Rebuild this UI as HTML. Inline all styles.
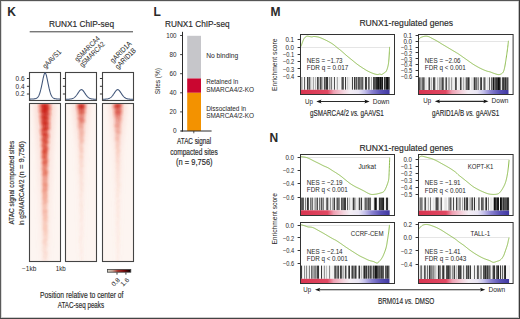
<!DOCTYPE html><html><head><meta charset="utf-8"><style>html,body{margin:0;padding:0;background:#fff;overflow:hidden}svg{display:block}text{font-family:"Liberation Sans",sans-serif;fill:#2a2a2a;stroke:#2a2a2a;stroke-width:0.03px}.b{stroke-width:0.16px}</style></head><body><svg width="520" height="319" viewBox="0 0 520 319"><defs><filter id="hb" x="-50%" y="-10%" width="200%" height="120%"><feGaussianBlur stdDeviation="0.6 0.9"/></filter><filter id="hb2" x="-50%" y="-10%" width="200%" height="120%"><feGaussianBlur stdDeviation="1.5 2.0"/></filter><clipPath id="hc0"><rect x="29.50" y="103.50" width="31.00" height="158.00"/></clipPath><clipPath id="hc1"><rect x="65.50" y="103.50" width="31.00" height="158.00"/></clipPath><clipPath id="hc2"><rect x="102.50" y="103.50" width="31.00" height="158.00"/></clipPath><linearGradient id="hgc0" x1="0" x2="1" y1="0" y2="0"><stop offset="0" stop-color="#e0301e" stop-opacity="0"/><stop offset="0.15" stop-color="#e0301e" stop-opacity="0.3"/><stop offset="0.35" stop-color="#c81a10" stop-opacity="0.85"/><stop offset="0.5" stop-color="#c81a10" stop-opacity="1"/><stop offset="0.65" stop-color="#c81a10" stop-opacity="0.85"/><stop offset="0.85" stop-color="#e0301e" stop-opacity="0.3"/><stop offset="1" stop-color="#e0301e" stop-opacity="0"/></linearGradient><linearGradient id="hgc1" x1="0" x2="1" y1="0" y2="0"><stop offset="0" stop-color="#e23c28" stop-opacity="0"/><stop offset="0.15" stop-color="#e23c28" stop-opacity="0.3"/><stop offset="0.35" stop-color="#cc2417" stop-opacity="0.85"/><stop offset="0.5" stop-color="#cc2417" stop-opacity="1"/><stop offset="0.65" stop-color="#cc2417" stop-opacity="0.85"/><stop offset="0.85" stop-color="#e23c28" stop-opacity="0.3"/><stop offset="1" stop-color="#e23c28" stop-opacity="0"/></linearGradient><linearGradient id="hgc2" x1="0" x2="1" y1="0" y2="0"><stop offset="0" stop-color="#e44732" stop-opacity="0"/><stop offset="0.15" stop-color="#e44732" stop-opacity="0.3"/><stop offset="0.35" stop-color="#d12f1e" stop-opacity="0.85"/><stop offset="0.5" stop-color="#d12f1e" stop-opacity="1"/><stop offset="0.65" stop-color="#d12f1e" stop-opacity="0.85"/><stop offset="0.85" stop-color="#e44732" stop-opacity="0.3"/><stop offset="1" stop-color="#e44732" stop-opacity="0"/></linearGradient><linearGradient id="hgc3" x1="0" x2="1" y1="0" y2="0"><stop offset="0" stop-color="#e7533c" stop-opacity="0"/><stop offset="0.15" stop-color="#e7533c" stop-opacity="0.3"/><stop offset="0.35" stop-color="#d53925" stop-opacity="0.85"/><stop offset="0.5" stop-color="#d53925" stop-opacity="1"/><stop offset="0.65" stop-color="#d53925" stop-opacity="0.85"/><stop offset="0.85" stop-color="#e7533c" stop-opacity="0.3"/><stop offset="1" stop-color="#e7533c" stop-opacity="0"/></linearGradient><linearGradient id="hgc4" x1="0" x2="1" y1="0" y2="0"><stop offset="0" stop-color="#e95e46" stop-opacity="0"/><stop offset="0.15" stop-color="#e95e46" stop-opacity="0.3"/><stop offset="0.35" stop-color="#da442c" stop-opacity="0.85"/><stop offset="0.5" stop-color="#da442c" stop-opacity="1"/><stop offset="0.65" stop-color="#da442c" stop-opacity="0.85"/><stop offset="0.85" stop-color="#e95e46" stop-opacity="0.3"/><stop offset="1" stop-color="#e95e46" stop-opacity="0"/></linearGradient><linearGradient id="hgc5" x1="0" x2="1" y1="0" y2="0"><stop offset="0" stop-color="#eb6a50" stop-opacity="0"/><stop offset="0.15" stop-color="#eb6a50" stop-opacity="0.3"/><stop offset="0.35" stop-color="#de4e34" stop-opacity="0.85"/><stop offset="0.5" stop-color="#de4e34" stop-opacity="1"/><stop offset="0.65" stop-color="#de4e34" stop-opacity="0.85"/><stop offset="0.85" stop-color="#eb6a50" stop-opacity="0.3"/><stop offset="1" stop-color="#eb6a50" stop-opacity="0"/></linearGradient><linearGradient id="hgc6" x1="0" x2="1" y1="0" y2="0"><stop offset="0" stop-color="#ed755a" stop-opacity="0"/><stop offset="0.15" stop-color="#ed755a" stop-opacity="0.3"/><stop offset="0.35" stop-color="#e3593b" stop-opacity="0.85"/><stop offset="0.5" stop-color="#e3593b" stop-opacity="1"/><stop offset="0.65" stop-color="#e3593b" stop-opacity="0.85"/><stop offset="0.85" stop-color="#ed755a" stop-opacity="0.3"/><stop offset="1" stop-color="#ed755a" stop-opacity="0"/></linearGradient><linearGradient id="hgc7" x1="0" x2="1" y1="0" y2="0"><stop offset="0" stop-color="#f08164" stop-opacity="0"/><stop offset="0.15" stop-color="#f08164" stop-opacity="0.3"/><stop offset="0.35" stop-color="#e76342" stop-opacity="0.85"/><stop offset="0.5" stop-color="#e76342" stop-opacity="1"/><stop offset="0.65" stop-color="#e76342" stop-opacity="0.85"/><stop offset="0.85" stop-color="#f08164" stop-opacity="0.3"/><stop offset="1" stop-color="#f08164" stop-opacity="0"/></linearGradient><linearGradient id="hgc8" x1="0" x2="1" y1="0" y2="0"><stop offset="0" stop-color="#f28c6e" stop-opacity="0"/><stop offset="0.15" stop-color="#f28c6e" stop-opacity="0.3"/><stop offset="0.35" stop-color="#ec6e49" stop-opacity="0.85"/><stop offset="0.5" stop-color="#ec6e49" stop-opacity="1"/><stop offset="0.65" stop-color="#ec6e49" stop-opacity="0.85"/><stop offset="0.85" stop-color="#f28c6e" stop-opacity="0.3"/><stop offset="1" stop-color="#f28c6e" stop-opacity="0"/></linearGradient><linearGradient id="hgc9" x1="0" x2="1" y1="0" y2="0"><stop offset="0" stop-color="#f49878" stop-opacity="0"/><stop offset="0.15" stop-color="#f49878" stop-opacity="0.3"/><stop offset="0.35" stop-color="#f07850" stop-opacity="0.85"/><stop offset="0.5" stop-color="#f07850" stop-opacity="1"/><stop offset="0.65" stop-color="#f07850" stop-opacity="0.85"/><stop offset="0.85" stop-color="#f49878" stop-opacity="0.3"/><stop offset="1" stop-color="#f49878" stop-opacity="0"/></linearGradient><linearGradient id="hgh" x1="0" x2="1" y1="0" y2="0"><stop offset="0" stop-color="#f4a090" stop-opacity="0"/><stop offset="0.5" stop-color="#f09080" stop-opacity="1"/><stop offset="1" stop-color="#f4a090" stop-opacity="0"/></linearGradient><linearGradient id="cb" x1="0" x2="1" y1="0" y2="0"><stop offset="0" stop-color="#d4d8cc"/><stop offset="0.22" stop-color="#c8a494"/><stop offset="0.45" stop-color="#a83028"/><stop offset="0.7" stop-color="#7a0808"/><stop offset="0.9" stop-color="#300000"/><stop offset="1" stop-color="#000"/></linearGradient><linearGradient id="st11" x1="0" x2="1" y1="0" y2="0"><stop offset="0" stop-color="#d83450"/><stop offset="0.3" stop-color="#e04862"/><stop offset="0.37" stop-color="#eea0b2"/><stop offset="0.48" stop-color="#f4d4de"/><stop offset="0.55" stop-color="#f4eef4"/><stop offset="0.65" stop-color="#eae6f4"/><stop offset="0.72" stop-color="#c4c0ea"/><stop offset="0.8" stop-color="#8a82d0"/><stop offset="0.9" stop-color="#5a52b6"/><stop offset="1" stop-color="#4038a2"/></linearGradient><linearGradient id="st12" x1="0" x2="1" y1="0" y2="0"><stop offset="0" stop-color="#d83450"/><stop offset="0.3" stop-color="#e04862"/><stop offset="0.37" stop-color="#eea0b2"/><stop offset="0.48" stop-color="#f4d4de"/><stop offset="0.55" stop-color="#f4eef4"/><stop offset="0.65" stop-color="#eae6f4"/><stop offset="0.72" stop-color="#c4c0ea"/><stop offset="0.8" stop-color="#8a82d0"/><stop offset="0.9" stop-color="#5a52b6"/><stop offset="1" stop-color="#4038a2"/></linearGradient><linearGradient id="st13" x1="0" x2="1" y1="0" y2="0"><stop offset="0" stop-color="#d83450"/><stop offset="0.3" stop-color="#e04862"/><stop offset="0.37" stop-color="#eea0b2"/><stop offset="0.48" stop-color="#f4d4de"/><stop offset="0.55" stop-color="#f4eef4"/><stop offset="0.65" stop-color="#eae6f4"/><stop offset="0.72" stop-color="#c4c0ea"/><stop offset="0.8" stop-color="#8a82d0"/><stop offset="0.9" stop-color="#5a52b6"/><stop offset="1" stop-color="#4038a2"/></linearGradient><linearGradient id="st14" x1="0" x2="1" y1="0" y2="0"><stop offset="0" stop-color="#d83450"/><stop offset="0.3" stop-color="#e04862"/><stop offset="0.37" stop-color="#eea0b2"/><stop offset="0.48" stop-color="#f4d4de"/><stop offset="0.55" stop-color="#f4eef4"/><stop offset="0.65" stop-color="#eae6f4"/><stop offset="0.72" stop-color="#c4c0ea"/><stop offset="0.8" stop-color="#8a82d0"/><stop offset="0.9" stop-color="#5a52b6"/><stop offset="1" stop-color="#4038a2"/></linearGradient><linearGradient id="st15" x1="0" x2="1" y1="0" y2="0"><stop offset="0" stop-color="#d83450"/><stop offset="0.3" stop-color="#e04862"/><stop offset="0.37" stop-color="#eea0b2"/><stop offset="0.48" stop-color="#f4d4de"/><stop offset="0.55" stop-color="#f4eef4"/><stop offset="0.65" stop-color="#eae6f4"/><stop offset="0.72" stop-color="#c4c0ea"/><stop offset="0.8" stop-color="#8a82d0"/><stop offset="0.9" stop-color="#5a52b6"/><stop offset="1" stop-color="#4038a2"/></linearGradient><linearGradient id="st16" x1="0" x2="1" y1="0" y2="0"><stop offset="0" stop-color="#d83450"/><stop offset="0.3" stop-color="#e04862"/><stop offset="0.37" stop-color="#eea0b2"/><stop offset="0.48" stop-color="#f4d4de"/><stop offset="0.55" stop-color="#f4eef4"/><stop offset="0.65" stop-color="#eae6f4"/><stop offset="0.72" stop-color="#c4c0ea"/><stop offset="0.8" stop-color="#8a82d0"/><stop offset="0.9" stop-color="#5a52b6"/><stop offset="1" stop-color="#4038a2"/></linearGradient></defs><rect width="520" height="319" fill="#fff"/><rect x="0.00" y="1.00" width="520.00" height="1.00" fill="#e4e4e4"/>
<rect x="1.00" y="0.00" width="1.00" height="319.00" fill="#dcdcdc"/>
<rect x="518.00" y="0.00" width="1.00" height="319.00" fill="#c0c0c0"/>
<rect x="0.00" y="317.00" width="520.00" height="1.00" fill="#cccccc"/>
<rect x="0.00" y="0.00" width="520.00" height="1.00" fill="#555555"/>
<rect x="0.00" y="0.00" width="1.00" height="319.00" fill="#5a5a5a"/>
<rect x="519.00" y="0.00" width="1.00" height="319.00" fill="#3a3a3a"/>
<rect x="0.00" y="318.00" width="520.00" height="1.00" fill="#444444"/>
<text x="7.20" y="16.20" font-size="12" font-weight="bold" fill="#111">K</text>
<text x="49.00" y="26.80" font-size="9" class="b" textLength="65.00" lengthAdjust="spacingAndGlyphs">RUNX1 ChIP-seq</text>
<line x1="29.70" y1="31.80" x2="133.00" y2="31.80" stroke="#2a2a2a" stroke-width="0.9"/>
<text x="45.40" y="68.90" font-size="7.4" textLength="23.00" lengthAdjust="spacingAndGlyphs" transform="rotate(-45 45.40 68.90)">gAAVS1</text>
<text x="77.50" y="62.00" font-size="7.4" textLength="32.50" lengthAdjust="spacingAndGlyphs" transform="rotate(-45 77.50 62.00)">gSMARCA4</text>
<text x="82.40" y="67.60" font-size="7.4" textLength="32.50" lengthAdjust="spacingAndGlyphs" transform="rotate(-45 82.40 67.60)">gSMARCA2</text>
<text x="113.10" y="63.20" font-size="7.4" textLength="27.00" lengthAdjust="spacingAndGlyphs" transform="rotate(-45 113.10 63.20)">gARID1A</text>
<text x="118.10" y="69.40" font-size="7.4" textLength="26.00" lengthAdjust="spacingAndGlyphs" transform="rotate(-45 118.10 69.40)">gARID1B</text>
<text x="24.60" y="80.70" font-size="6.6" text-anchor="end" textLength="9.00" lengthAdjust="spacingAndGlyphs">0.6</text>
<text x="24.60" y="88.50" font-size="6.6" text-anchor="end" textLength="9.00" lengthAdjust="spacingAndGlyphs">0.4</text>
<text x="24.60" y="96.30" font-size="6.6" text-anchor="end" textLength="9.00" lengthAdjust="spacingAndGlyphs">0.2</text>
<rect x="29.50" y="103.50" width="31.00" height="158.00" fill="#fdf5f1"/>
<g clip-path="url(#hc0)">
<g filter="url(#hb2)"><rect x="31.06" y="103.50" width="27.88" height="2.27" fill="url(#hgh)" opacity="0.544"/><rect x="31.19" y="105.47" width="27.62" height="2.27" fill="url(#hgh)" opacity="0.531"/><rect x="31.31" y="107.45" width="27.38" height="2.27" fill="url(#hgh)" opacity="0.519"/><rect x="31.44" y="109.42" width="27.12" height="2.27" fill="url(#hgh)" opacity="0.506"/><rect x="31.56" y="111.40" width="26.88" height="2.27" fill="url(#hgh)" opacity="0.494"/><rect x="31.69" y="113.38" width="26.62" height="2.27" fill="url(#hgh)" opacity="0.481"/><rect x="31.81" y="115.35" width="26.38" height="2.27" fill="url(#hgh)" opacity="0.469"/><rect x="31.94" y="117.33" width="26.12" height="2.27" fill="url(#hgh)" opacity="0.456"/><rect x="32.06" y="119.30" width="25.88" height="2.27" fill="url(#hgh)" opacity="0.444"/><rect x="32.19" y="121.28" width="25.62" height="2.27" fill="url(#hgh)" opacity="0.431"/><rect x="32.31" y="123.25" width="25.38" height="2.27" fill="url(#hgh)" opacity="0.419"/><rect x="32.44" y="125.22" width="25.12" height="2.27" fill="url(#hgh)" opacity="0.406"/><rect x="32.56" y="127.20" width="24.88" height="2.27" fill="url(#hgh)" opacity="0.395"/><rect x="32.69" y="129.18" width="24.62" height="2.27" fill="url(#hgh)" opacity="0.386"/><rect x="32.81" y="131.15" width="24.38" height="2.27" fill="url(#hgh)" opacity="0.377"/><rect x="32.94" y="133.12" width="24.12" height="2.27" fill="url(#hgh)" opacity="0.367"/><rect x="33.06" y="135.10" width="23.88" height="2.27" fill="url(#hgh)" opacity="0.358"/><rect x="33.19" y="137.07" width="23.62" height="2.27" fill="url(#hgh)" opacity="0.348"/><rect x="33.31" y="139.05" width="23.38" height="2.27" fill="url(#hgh)" opacity="0.339"/><rect x="33.44" y="141.03" width="23.12" height="2.27" fill="url(#hgh)" opacity="0.330"/><rect x="33.56" y="143.00" width="22.88" height="2.27" fill="url(#hgh)" opacity="0.320"/><rect x="33.69" y="144.97" width="22.62" height="2.27" fill="url(#hgh)" opacity="0.311"/><rect x="33.81" y="146.95" width="22.38" height="2.27" fill="url(#hgh)" opacity="0.302"/><rect x="33.94" y="148.93" width="22.12" height="2.27" fill="url(#hgh)" opacity="0.292"/><rect x="34.03" y="150.90" width="21.95" height="2.27" fill="url(#hgh)" opacity="0.283"/><rect x="34.08" y="152.88" width="21.84" height="2.27" fill="url(#hgh)" opacity="0.273"/><rect x="34.13" y="154.85" width="21.73" height="2.27" fill="url(#hgh)" opacity="0.264"/><rect x="34.19" y="156.82" width="21.62" height="2.27" fill="url(#hgh)" opacity="0.255"/><rect x="34.24" y="158.80" width="21.52" height="2.27" fill="url(#hgh)" opacity="0.247"/><rect x="34.29" y="160.78" width="21.41" height="2.27" fill="url(#hgh)" opacity="0.242"/><rect x="34.35" y="162.75" width="21.30" height="2.27" fill="url(#hgh)" opacity="0.236"/><rect x="34.40" y="164.72" width="21.20" height="2.27" fill="url(#hgh)" opacity="0.231"/><rect x="34.46" y="166.70" width="21.09" height="2.27" fill="url(#hgh)" opacity="0.225"/><rect x="34.51" y="168.68" width="20.98" height="2.27" fill="url(#hgh)" opacity="0.220"/><rect x="34.56" y="170.65" width="20.88" height="2.27" fill="url(#hgh)" opacity="0.214"/><rect x="34.62" y="172.62" width="20.77" height="2.27" fill="url(#hgh)" opacity="0.209"/><rect x="34.67" y="174.60" width="20.66" height="2.27" fill="url(#hgh)" opacity="0.203"/><rect x="34.72" y="176.57" width="20.55" height="2.27" fill="url(#hgh)" opacity="0.198"/><rect x="34.78" y="178.55" width="20.45" height="2.27" fill="url(#hgh)" opacity="0.192"/><rect x="34.83" y="180.53" width="20.34" height="2.27" fill="url(#hgh)" opacity="0.187"/><rect x="34.88" y="182.50" width="20.23" height="2.27" fill="url(#hgh)" opacity="0.181"/><rect x="34.94" y="184.47" width="20.12" height="2.27" fill="url(#hgh)" opacity="0.176"/><rect x="34.99" y="186.45" width="20.02" height="2.27" fill="url(#hgh)" opacity="0.170"/><rect x="35.04" y="188.43" width="19.91" height="2.27" fill="url(#hgh)" opacity="0.165"/><rect x="35.10" y="190.40" width="19.80" height="2.27" fill="url(#hgh)" opacity="0.159"/><rect x="35.15" y="192.38" width="19.70" height="2.27" fill="url(#hgh)" opacity="0.154"/><rect x="35.21" y="194.35" width="19.59" height="2.27" fill="url(#hgh)" opacity="0.148"/><rect x="35.26" y="196.32" width="19.48" height="2.27" fill="url(#hgh)" opacity="0.143"/><rect x="35.31" y="198.30" width="19.38" height="2.27" fill="url(#hgh)" opacity="0.139"/><rect x="35.37" y="200.28" width="19.27" height="2.27" fill="url(#hgh)" opacity="0.136"/><rect x="35.42" y="202.25" width="19.16" height="2.27" fill="url(#hgh)" opacity="0.134"/><rect x="35.47" y="204.22" width="19.05" height="2.27" fill="url(#hgh)" opacity="0.131"/><rect x="35.53" y="206.20" width="18.95" height="2.27" fill="url(#hgh)" opacity="0.129"/><rect x="35.58" y="208.18" width="18.84" height="2.27" fill="url(#hgh)" opacity="0.126"/><rect x="35.63" y="210.15" width="18.73" height="2.27" fill="url(#hgh)" opacity="0.124"/><rect x="35.69" y="212.12" width="18.62" height="2.27" fill="url(#hgh)" opacity="0.121"/><rect x="35.74" y="214.10" width="18.52" height="2.27" fill="url(#hgh)" opacity="0.119"/><rect x="35.79" y="216.07" width="18.41" height="2.27" fill="url(#hgh)" opacity="0.116"/><rect x="35.85" y="218.05" width="18.30" height="2.27" fill="url(#hgh)" opacity="0.114"/><rect x="35.90" y="220.03" width="18.20" height="2.27" fill="url(#hgh)" opacity="0.111"/><rect x="35.96" y="222.00" width="18.09" height="2.27" fill="url(#hgh)" opacity="0.109"/><rect x="36.01" y="223.97" width="17.98" height="2.27" fill="url(#hgh)" opacity="0.106"/><rect x="36.06" y="225.95" width="17.88" height="2.27" fill="url(#hgh)" opacity="0.104"/><rect x="36.12" y="227.93" width="17.77" height="2.27" fill="url(#hgh)" opacity="0.101"/><rect x="36.17" y="229.90" width="17.66" height="2.27" fill="url(#hgh)" opacity="0.099"/><rect x="36.22" y="231.88" width="17.55" height="2.27" fill="url(#hgh)" opacity="0.096"/><rect x="36.28" y="233.85" width="17.45" height="2.27" fill="url(#hgh)" opacity="0.094"/><rect x="36.33" y="235.82" width="17.34" height="2.27" fill="url(#hgh)" opacity="0.091"/><rect x="36.38" y="237.80" width="17.23" height="2.27" fill="url(#hgh)" opacity="0.089"/><rect x="36.44" y="239.78" width="17.12" height="2.27" fill="url(#hgh)" opacity="0.086"/><rect x="36.49" y="241.75" width="17.02" height="2.27" fill="url(#hgh)" opacity="0.084"/><rect x="36.54" y="243.72" width="16.91" height="2.27" fill="url(#hgh)" opacity="0.081"/><rect x="36.60" y="245.70" width="16.80" height="2.27" fill="url(#hgh)" opacity="0.079"/><rect x="36.65" y="247.68" width="16.70" height="2.27" fill="url(#hgh)" opacity="0.076"/><rect x="36.71" y="249.65" width="16.59" height="2.27" fill="url(#hgh)" opacity="0.074"/><rect x="36.76" y="251.62" width="16.48" height="2.27" fill="url(#hgh)" opacity="0.071"/><rect x="36.81" y="253.60" width="16.38" height="2.27" fill="url(#hgh)" opacity="0.069"/><rect x="36.87" y="255.57" width="16.27" height="2.27" fill="url(#hgh)" opacity="0.066"/><rect x="36.92" y="257.55" width="16.16" height="2.27" fill="url(#hgh)" opacity="0.064"/><rect x="36.97" y="259.52" width="16.05" height="2.27" fill="url(#hgh)" opacity="0.061"/></g>
<g filter="url(#hb)"><rect x="36.79" y="103.50" width="16.25" height="2.27" fill="url(#hgc0)" opacity="0.984"/><rect x="36.67" y="105.47" width="15.95" height="2.27" fill="url(#hgc0)" opacity="0.983"/><rect x="37.56" y="107.45" width="15.65" height="2.27" fill="url(#hgc0)" opacity="1.000"/><rect x="36.92" y="109.42" width="15.35" height="2.27" fill="url(#hgc0)" opacity="1.000"/><rect x="37.27" y="111.40" width="15.05" height="2.27" fill="url(#hgc0)" opacity="0.944"/><rect x="38.17" y="113.38" width="14.75" height="2.27" fill="url(#hgc0)" opacity="0.808"/><rect x="37.23" y="115.35" width="14.45" height="2.27" fill="url(#hgc1)" opacity="1.000"/><rect x="38.05" y="117.33" width="14.15" height="2.27" fill="url(#hgc1)" opacity="1.000"/><rect x="37.79" y="119.30" width="13.90" height="2.27" fill="url(#hgc1)" opacity="0.860"/><rect x="38.10" y="121.28" width="13.70" height="2.27" fill="url(#hgc1)" opacity="0.992"/><rect x="38.44" y="123.25" width="13.50" height="2.27" fill="url(#hgc1)" opacity="0.988"/><rect x="38.67" y="125.22" width="13.30" height="2.27" fill="url(#hgc1)" opacity="0.719"/><rect x="39.01" y="127.20" width="13.10" height="2.27" fill="url(#hgc1)" opacity="1.000"/><rect x="38.00" y="129.18" width="12.90" height="2.27" fill="url(#hgc2)" opacity="0.926"/><rect x="38.21" y="131.15" width="12.70" height="2.27" fill="url(#hgc2)" opacity="0.639"/><rect x="38.51" y="133.12" width="12.50" height="2.27" fill="url(#hgc2)" opacity="1.000"/><rect x="39.33" y="135.10" width="12.30" height="2.27" fill="url(#hgc2)" opacity="0.788"/><rect x="39.01" y="137.07" width="12.10" height="2.27" fill="url(#hgc2)" opacity="0.757"/><rect x="38.53" y="139.05" width="11.90" height="2.27" fill="url(#hgc2)" opacity="0.802"/><rect x="39.56" y="141.03" width="11.70" height="2.27" fill="url(#hgc3)" opacity="0.858"/><rect x="38.92" y="143.00" width="11.50" height="2.27" fill="url(#hgc3)" opacity="0.663"/><rect x="38.79" y="144.97" width="11.30" height="2.27" fill="url(#hgc3)" opacity="0.759"/><rect x="39.83" y="146.95" width="11.10" height="2.27" fill="url(#hgc3)" opacity="0.780"/><rect x="39.59" y="148.93" width="10.90" height="2.27" fill="url(#hgc3)" opacity="0.831"/><rect x="39.19" y="150.90" width="10.78" height="2.27" fill="url(#hgc3)" opacity="0.894"/><rect x="39.47" y="152.88" width="10.75" height="2.27" fill="url(#hgc4)" opacity="0.765"/><rect x="39.18" y="154.85" width="10.72" height="2.27" fill="url(#hgc4)" opacity="0.763"/><rect x="39.17" y="156.82" width="10.68" height="2.27" fill="url(#hgc4)" opacity="0.813"/><rect x="40.04" y="158.80" width="10.65" height="2.27" fill="url(#hgc4)" opacity="0.574"/><rect x="39.61" y="160.78" width="10.62" height="2.27" fill="url(#hgc4)" opacity="0.842"/><rect x="39.40" y="162.75" width="10.58" height="2.27" fill="url(#hgc4)" opacity="0.637"/><rect x="39.87" y="164.72" width="10.55" height="2.27" fill="url(#hgc4)" opacity="0.576"/><rect x="39.29" y="166.70" width="10.52" height="2.27" fill="url(#hgc5)" opacity="0.530"/><rect x="39.36" y="168.68" width="10.48" height="2.27" fill="url(#hgc5)" opacity="0.608"/><rect x="40.16" y="170.65" width="10.45" height="2.27" fill="url(#hgc5)" opacity="0.654"/><rect x="39.77" y="172.62" width="10.42" height="2.27" fill="url(#hgc5)" opacity="0.677"/><rect x="39.73" y="174.60" width="10.38" height="2.27" fill="url(#hgc5)" opacity="0.529"/><rect x="40.08" y="176.57" width="10.35" height="2.27" fill="url(#hgc5)" opacity="0.413"/><rect x="39.62" y="178.55" width="10.32" height="2.27" fill="url(#hgc6)" opacity="0.495"/><rect x="39.80" y="180.53" width="10.28" height="2.27" fill="url(#hgc6)" opacity="0.411"/><rect x="39.74" y="182.50" width="10.25" height="2.27" fill="url(#hgc6)" opacity="0.534"/><rect x="40.10" y="184.47" width="10.22" height="2.27" fill="url(#hgc6)" opacity="0.592"/><rect x="39.94" y="186.45" width="10.18" height="2.27" fill="url(#hgc6)" opacity="0.414"/><rect x="39.95" y="188.43" width="10.15" height="2.27" fill="url(#hgc6)" opacity="0.564"/><rect x="39.42" y="190.40" width="10.12" height="2.27" fill="url(#hgc7)" opacity="0.474"/><rect x="39.91" y="192.38" width="10.08" height="2.27" fill="url(#hgc7)" opacity="0.435"/><rect x="39.88" y="194.35" width="10.05" height="2.27" fill="url(#hgc7)" opacity="0.402"/><rect x="40.04" y="196.32" width="10.02" height="2.27" fill="url(#hgc7)" opacity="0.430"/><rect x="39.61" y="198.30" width="9.99" height="2.27" fill="url(#hgc7)" opacity="0.397"/><rect x="40.58" y="200.28" width="9.96" height="2.27" fill="url(#hgc7)" opacity="0.374"/><rect x="39.47" y="202.25" width="9.94" height="2.27" fill="url(#hgc7)" opacity="0.357"/><rect x="40.09" y="204.22" width="9.91" height="2.27" fill="url(#hgc8)" opacity="0.267"/><rect x="39.57" y="206.20" width="9.89" height="2.27" fill="url(#hgc8)" opacity="0.266"/><rect x="40.01" y="208.18" width="9.86" height="2.27" fill="url(#hgc8)" opacity="0.267"/><rect x="40.06" y="210.15" width="9.84" height="2.27" fill="url(#hgc8)" opacity="0.407"/><rect x="40.02" y="212.12" width="9.81" height="2.27" fill="url(#hgc8)" opacity="0.304"/><rect x="40.04" y="214.10" width="9.79" height="2.27" fill="url(#hgc8)" opacity="0.299"/><rect x="40.60" y="216.07" width="9.76" height="2.27" fill="url(#hgc9)" opacity="0.322"/><rect x="40.04" y="218.05" width="9.74" height="2.27" fill="url(#hgc9)" opacity="0.305"/><rect x="40.64" y="220.03" width="9.71" height="2.27" fill="url(#hgc9)" opacity="0.286"/><rect x="39.84" y="222.00" width="9.69" height="2.27" fill="url(#hgc9)" opacity="0.208"/><rect x="40.39" y="223.97" width="9.66" height="2.27" fill="url(#hgc9)" opacity="0.258"/><rect x="40.29" y="225.95" width="9.64" height="2.27" fill="url(#hgc9)" opacity="0.249"/><rect x="40.17" y="227.93" width="9.61" height="2.27" fill="url(#hgc9)" opacity="0.259"/><rect x="40.76" y="229.90" width="9.59" height="2.27" fill="url(#hgc9)" opacity="0.244"/><rect x="40.65" y="231.88" width="9.56" height="2.27" fill="url(#hgc9)" opacity="0.192"/><rect x="40.70" y="233.85" width="9.54" height="2.27" fill="url(#hgc9)" opacity="0.209"/><rect x="40.74" y="235.82" width="9.51" height="2.27" fill="url(#hgc9)" opacity="0.134"/><rect x="40.81" y="237.80" width="9.49" height="2.27" fill="url(#hgc9)" opacity="0.191"/><rect x="40.01" y="239.78" width="9.46" height="2.27" fill="url(#hgc9)" opacity="0.199"/><rect x="39.85" y="241.75" width="9.44" height="2.27" fill="url(#hgc9)" opacity="0.165"/><rect x="40.80" y="243.72" width="9.41" height="2.27" fill="url(#hgc9)" opacity="0.150"/><rect x="40.13" y="245.70" width="9.39" height="2.27" fill="url(#hgc9)" opacity="0.113"/><rect x="39.95" y="247.68" width="9.36" height="2.27" fill="url(#hgc9)" opacity="0.099"/><rect x="39.85" y="249.65" width="9.34" height="2.27" fill="url(#hgc9)" opacity="0.101"/><rect x="40.81" y="251.62" width="9.31" height="2.27" fill="url(#hgc9)" opacity="0.141"/><rect x="40.65" y="253.60" width="9.29" height="2.27" fill="url(#hgc9)" opacity="0.102"/><rect x="40.40" y="255.57" width="9.26" height="2.27" fill="url(#hgc9)" opacity="0.106"/><rect x="40.58" y="257.55" width="9.24" height="2.27" fill="url(#hgc9)" opacity="0.084"/><rect x="40.11" y="259.52" width="9.21" height="2.27" fill="url(#hgc9)" opacity="0.082"/></g>
</g>
<rect x="29.50" y="103.50" width="31.00" height="158.00" fill="none" stroke="#444" stroke-width="1.1"/>
<rect x="65.50" y="103.50" width="31.00" height="158.00" fill="#fdf5f1"/>
<g clip-path="url(#hc1)">
<g filter="url(#hb2)"><rect x="69.38" y="103.50" width="23.83" height="2.27" fill="url(#hgh)" opacity="0.441"/><rect x="69.55" y="105.47" width="23.50" height="2.27" fill="url(#hgh)" opacity="0.422"/><rect x="69.72" y="107.45" width="23.17" height="2.27" fill="url(#hgh)" opacity="0.403"/><rect x="69.88" y="109.42" width="22.83" height="2.27" fill="url(#hgh)" opacity="0.384"/><rect x="70.05" y="111.40" width="22.50" height="2.27" fill="url(#hgh)" opacity="0.366"/><rect x="70.22" y="113.38" width="22.17" height="2.27" fill="url(#hgh)" opacity="0.347"/><rect x="70.38" y="115.35" width="21.83" height="2.27" fill="url(#hgh)" opacity="0.328"/><rect x="70.55" y="117.33" width="21.50" height="2.27" fill="url(#hgh)" opacity="0.309"/><rect x="70.72" y="119.30" width="21.17" height="2.27" fill="url(#hgh)" opacity="0.294"/><rect x="70.88" y="121.28" width="20.83" height="2.27" fill="url(#hgh)" opacity="0.283"/><rect x="71.05" y="123.25" width="20.50" height="2.27" fill="url(#hgh)" opacity="0.272"/><rect x="71.22" y="125.22" width="20.17" height="2.27" fill="url(#hgh)" opacity="0.261"/><rect x="71.38" y="127.20" width="19.83" height="2.27" fill="url(#hgh)" opacity="0.249"/><rect x="71.55" y="129.18" width="19.50" height="2.27" fill="url(#hgh)" opacity="0.238"/><rect x="71.72" y="131.15" width="19.17" height="2.27" fill="url(#hgh)" opacity="0.227"/><rect x="71.88" y="133.12" width="18.83" height="2.27" fill="url(#hgh)" opacity="0.216"/><rect x="72.05" y="135.10" width="18.50" height="2.27" fill="url(#hgh)" opacity="0.204"/><rect x="72.22" y="137.07" width="18.17" height="2.27" fill="url(#hgh)" opacity="0.193"/><rect x="72.38" y="139.05" width="17.83" height="2.27" fill="url(#hgh)" opacity="0.182"/><rect x="72.55" y="141.03" width="17.50" height="2.27" fill="url(#hgh)" opacity="0.171"/><rect x="72.72" y="143.00" width="17.17" height="2.27" fill="url(#hgh)" opacity="0.159"/><rect x="72.88" y="144.97" width="16.83" height="2.27" fill="url(#hgh)" opacity="0.148"/><rect x="73.05" y="146.95" width="16.50" height="2.27" fill="url(#hgh)" opacity="0.137"/><rect x="73.22" y="148.93" width="16.17" height="2.27" fill="url(#hgh)" opacity="0.126"/><rect x="73.33" y="150.90" width="15.95" height="2.27" fill="url(#hgh)" opacity="0.119"/><rect x="73.38" y="152.88" width="15.84" height="2.27" fill="url(#hgh)" opacity="0.116"/><rect x="73.43" y="154.85" width="15.73" height="2.27" fill="url(#hgh)" opacity="0.113"/><rect x="73.49" y="156.82" width="15.62" height="2.27" fill="url(#hgh)" opacity="0.110"/><rect x="73.54" y="158.80" width="15.52" height="2.27" fill="url(#hgh)" opacity="0.107"/><rect x="73.59" y="160.78" width="15.41" height="2.27" fill="url(#hgh)" opacity="0.104"/><rect x="73.65" y="162.75" width="15.30" height="2.27" fill="url(#hgh)" opacity="0.101"/><rect x="73.70" y="164.72" width="15.20" height="2.27" fill="url(#hgh)" opacity="0.098"/><rect x="73.76" y="166.70" width="15.09" height="2.27" fill="url(#hgh)" opacity="0.095"/><rect x="73.81" y="168.68" width="14.98" height="2.27" fill="url(#hgh)" opacity="0.092"/><rect x="73.86" y="170.65" width="14.88" height="2.27" fill="url(#hgh)" opacity="0.089"/><rect x="73.92" y="172.62" width="14.77" height="2.27" fill="url(#hgh)" opacity="0.086"/><rect x="73.97" y="174.60" width="14.66" height="2.27" fill="url(#hgh)" opacity="0.084"/><rect x="74.02" y="176.57" width="14.55" height="2.27" fill="url(#hgh)" opacity="0.081"/><rect x="74.08" y="178.55" width="14.45" height="2.27" fill="url(#hgh)" opacity="0.078"/><rect x="74.13" y="180.53" width="14.34" height="2.27" fill="url(#hgh)" opacity="0.075"/><rect x="74.18" y="182.50" width="14.23" height="2.27" fill="url(#hgh)" opacity="0.072"/><rect x="74.24" y="184.47" width="14.12" height="2.27" fill="url(#hgh)" opacity="0.069"/><rect x="74.29" y="186.45" width="14.02" height="2.27" fill="url(#hgh)" opacity="0.066"/><rect x="74.34" y="188.43" width="13.91" height="2.27" fill="url(#hgh)" opacity="0.063"/><rect x="74.40" y="190.40" width="13.80" height="2.27" fill="url(#hgh)" opacity="0.060"/><rect x="74.45" y="192.38" width="13.70" height="2.27" fill="url(#hgh)" opacity="0.057"/><rect x="74.51" y="194.35" width="13.59" height="2.27" fill="url(#hgh)" opacity="0.054"/><rect x="74.56" y="196.32" width="13.48" height="2.27" fill="url(#hgh)" opacity="0.051"/><rect x="74.61" y="198.30" width="13.38" height="2.27" fill="url(#hgh)" opacity="0.050"/><rect x="74.67" y="200.28" width="13.27" height="2.27" fill="url(#hgh)" opacity="0.049"/><rect x="74.72" y="202.25" width="13.16" height="2.27" fill="url(#hgh)" opacity="0.048"/><rect x="74.77" y="204.22" width="13.05" height="2.27" fill="url(#hgh)" opacity="0.047"/><rect x="74.83" y="206.20" width="12.95" height="2.27" fill="url(#hgh)" opacity="0.046"/><rect x="74.88" y="208.18" width="12.84" height="2.27" fill="url(#hgh)" opacity="0.045"/><rect x="74.93" y="210.15" width="12.73" height="2.27" fill="url(#hgh)" opacity="0.044"/><rect x="74.99" y="212.12" width="12.62" height="2.27" fill="url(#hgh)" opacity="0.043"/><rect x="75.04" y="214.10" width="12.52" height="2.27" fill="url(#hgh)" opacity="0.042"/><rect x="75.09" y="216.07" width="12.41" height="2.27" fill="url(#hgh)" opacity="0.041"/><rect x="75.15" y="218.05" width="12.30" height="2.27" fill="url(#hgh)" opacity="0.040"/><rect x="75.20" y="220.03" width="12.20" height="2.27" fill="url(#hgh)" opacity="0.039"/><rect x="75.26" y="222.00" width="12.09" height="2.27" fill="url(#hgh)" opacity="0.038"/><rect x="75.31" y="223.97" width="11.98" height="2.27" fill="url(#hgh)" opacity="0.037"/><rect x="75.36" y="225.95" width="11.88" height="2.27" fill="url(#hgh)" opacity="0.036"/><rect x="75.42" y="227.93" width="11.77" height="2.27" fill="url(#hgh)" opacity="0.035"/><rect x="75.47" y="229.90" width="11.66" height="2.27" fill="url(#hgh)" opacity="0.035"/><rect x="75.52" y="231.88" width="11.55" height="2.27" fill="url(#hgh)" opacity="0.034"/><rect x="75.58" y="233.85" width="11.45" height="2.27" fill="url(#hgh)" opacity="0.033"/><rect x="75.63" y="235.82" width="11.34" height="2.27" fill="url(#hgh)" opacity="0.032"/><rect x="75.68" y="237.80" width="11.23" height="2.27" fill="url(#hgh)" opacity="0.031"/><rect x="75.74" y="239.78" width="11.12" height="2.27" fill="url(#hgh)" opacity="0.030"/><rect x="75.79" y="241.75" width="11.02" height="2.27" fill="url(#hgh)" opacity="0.029"/><rect x="75.84" y="243.72" width="10.91" height="2.27" fill="url(#hgh)" opacity="0.028"/><rect x="75.90" y="245.70" width="10.80" height="2.27" fill="url(#hgh)" opacity="0.027"/><rect x="75.95" y="247.68" width="10.70" height="2.27" fill="url(#hgh)" opacity="0.026"/><rect x="76.01" y="249.65" width="10.59" height="2.27" fill="url(#hgh)" opacity="0.025"/><rect x="76.06" y="251.62" width="10.48" height="2.27" fill="url(#hgh)" opacity="0.024"/><rect x="76.11" y="253.60" width="10.38" height="2.27" fill="url(#hgh)" opacity="0.023"/><rect x="76.17" y="255.57" width="10.27" height="2.27" fill="url(#hgh)" opacity="0.022"/><rect x="76.22" y="257.55" width="10.16" height="2.27" fill="url(#hgh)" opacity="0.021"/><rect x="76.27" y="259.52" width="10.05" height="2.27" fill="url(#hgh)" opacity="0.020"/></g>
<g filter="url(#hb)"><rect x="74.65" y="103.50" width="13.45" height="2.27" fill="url(#hgc0)" opacity="0.813"/><rect x="74.68" y="105.47" width="13.15" height="2.27" fill="url(#hgc0)" opacity="0.970"/><rect x="74.98" y="107.45" width="12.85" height="2.27" fill="url(#hgc0)" opacity="0.754"/><rect x="75.04" y="109.42" width="12.55" height="2.27" fill="url(#hgc1)" opacity="0.587"/><rect x="75.53" y="111.40" width="12.25" height="2.27" fill="url(#hgc1)" opacity="0.689"/><rect x="75.09" y="113.38" width="11.95" height="2.27" fill="url(#hgc2)" opacity="0.460"/><rect x="75.85" y="115.35" width="11.65" height="2.27" fill="url(#hgc2)" opacity="0.414"/><rect x="75.08" y="117.33" width="11.35" height="2.27" fill="url(#hgc2)" opacity="0.541"/><rect x="76.32" y="119.30" width="11.08" height="2.27" fill="url(#hgc3)" opacity="0.568"/><rect x="76.01" y="121.28" width="10.85" height="2.27" fill="url(#hgc3)" opacity="0.449"/><rect x="75.41" y="123.25" width="10.62" height="2.27" fill="url(#hgc4)" opacity="0.310"/><rect x="75.58" y="125.22" width="10.38" height="2.27" fill="url(#hgc4)" opacity="0.351"/><rect x="75.92" y="127.20" width="10.15" height="2.27" fill="url(#hgc4)" opacity="0.274"/><rect x="76.30" y="129.18" width="9.92" height="2.27" fill="url(#hgc5)" opacity="0.233"/><rect x="76.87" y="131.15" width="9.68" height="2.27" fill="url(#hgc5)" opacity="0.282"/><rect x="76.74" y="133.12" width="9.45" height="2.27" fill="url(#hgc6)" opacity="0.275"/><rect x="76.89" y="135.10" width="9.22" height="2.27" fill="url(#hgc6)" opacity="0.254"/><rect x="76.54" y="137.07" width="8.98" height="2.27" fill="url(#hgc6)" opacity="0.231"/><rect x="77.52" y="139.05" width="8.75" height="2.27" fill="url(#hgc7)" opacity="0.275"/><rect x="77.29" y="141.03" width="8.52" height="2.27" fill="url(#hgc7)" opacity="0.235"/><rect x="76.79" y="143.00" width="8.38" height="2.27" fill="url(#hgc8)" opacity="0.168"/><rect x="76.61" y="144.97" width="8.34" height="2.27" fill="url(#hgc8)" opacity="0.159"/><rect x="77.03" y="146.95" width="8.30" height="2.27" fill="url(#hgc8)" opacity="0.196"/><rect x="77.03" y="148.93" width="8.26" height="2.27" fill="url(#hgc9)" opacity="0.195"/><rect x="77.61" y="150.90" width="8.22" height="2.27" fill="url(#hgc9)" opacity="0.196"/><rect x="76.86" y="152.88" width="8.18" height="2.27" fill="url(#hgc9)" opacity="0.111"/><rect x="77.19" y="154.85" width="8.14" height="2.27" fill="url(#hgc9)" opacity="0.175"/><rect x="77.13" y="156.82" width="8.10" height="2.27" fill="url(#hgc9)" opacity="0.171"/><rect x="77.43" y="158.80" width="8.06" height="2.27" fill="url(#hgc9)" opacity="0.100"/><rect x="77.01" y="160.78" width="8.02" height="2.27" fill="url(#hgc9)" opacity="0.140"/><rect x="77.11" y="162.75" width="7.98" height="2.27" fill="url(#hgc9)" opacity="0.090"/><rect x="77.64" y="164.72" width="7.94" height="2.27" fill="url(#hgc9)" opacity="0.134"/><rect x="77.05" y="166.70" width="7.90" height="2.27" fill="url(#hgc9)" opacity="0.082"/><rect x="76.84" y="168.68" width="7.86" height="2.27" fill="url(#hgc9)" opacity="0.079"/><rect x="77.00" y="170.65" width="7.82" height="2.27" fill="url(#hgc9)" opacity="0.112"/><rect x="77.35" y="172.62" width="7.78" height="2.27" fill="url(#hgc9)" opacity="0.097"/><rect x="77.71" y="174.60" width="7.74" height="2.27" fill="url(#hgc9)" opacity="0.076"/><rect x="77.62" y="176.57" width="7.70" height="2.27" fill="url(#hgc9)" opacity="0.071"/><rect x="77.37" y="178.55" width="7.66" height="2.27" fill="url(#hgc9)" opacity="0.068"/><rect x="77.21" y="180.53" width="7.62" height="2.27" fill="url(#hgc9)" opacity="0.070"/><rect x="77.87" y="182.50" width="7.58" height="2.27" fill="url(#hgc9)" opacity="0.099"/><rect x="77.99" y="184.47" width="7.54" height="2.27" fill="url(#hgc9)" opacity="0.068"/><rect x="77.42" y="186.45" width="7.50" height="2.27" fill="url(#hgc9)" opacity="0.062"/><rect x="77.74" y="188.43" width="7.46" height="2.27" fill="url(#hgc9)" opacity="0.083"/><rect x="78.18" y="190.40" width="7.42" height="2.27" fill="url(#hgc9)" opacity="0.053"/><rect x="77.32" y="192.38" width="7.38" height="2.27" fill="url(#hgc9)" opacity="0.055"/><rect x="77.42" y="194.35" width="7.34" height="2.27" fill="url(#hgc9)" opacity="0.070"/><rect x="77.14" y="196.32" width="7.30" height="2.27" fill="url(#hgc9)" opacity="0.052"/><rect x="77.77" y="198.30" width="7.26" height="2.27" fill="url(#hgc9)" opacity="0.044"/><rect x="77.81" y="200.28" width="7.22" height="2.27" fill="url(#hgc9)" opacity="0.048"/><rect x="77.65" y="202.25" width="7.18" height="2.27" fill="url(#hgc9)" opacity="0.051"/><rect x="77.71" y="204.22" width="7.14" height="2.27" fill="url(#hgc9)" opacity="0.067"/><rect x="78.19" y="206.20" width="7.10" height="2.27" fill="url(#hgc9)" opacity="0.055"/><rect x="77.35" y="208.18" width="7.06" height="2.27" fill="url(#hgc9)" opacity="0.043"/><rect x="78.17" y="210.15" width="7.02" height="2.27" fill="url(#hgc9)" opacity="0.062"/><rect x="77.44" y="212.12" width="6.98" height="2.27" fill="url(#hgc9)" opacity="0.044"/><rect x="78.36" y="214.10" width="6.94" height="2.27" fill="url(#hgc9)" opacity="0.056"/><rect x="78.39" y="216.07" width="6.90" height="2.27" fill="url(#hgc9)" opacity="0.041"/><rect x="77.99" y="218.05" width="6.86" height="2.27" fill="url(#hgc9)" opacity="0.057"/><rect x="77.41" y="220.03" width="6.82" height="2.27" fill="url(#hgc9)" opacity="0.045"/><rect x="78.47" y="222.00" width="6.78" height="2.27" fill="url(#hgc9)" opacity="0.035"/><rect x="78.18" y="223.97" width="6.74" height="2.27" fill="url(#hgc9)" opacity="0.039"/><rect x="78.34" y="225.95" width="6.70" height="2.27" fill="url(#hgc9)" opacity="0.038"/><rect x="77.72" y="227.93" width="6.66" height="2.27" fill="url(#hgc9)" opacity="0.045"/><rect x="78.25" y="229.90" width="6.62" height="2.27" fill="url(#hgc9)" opacity="0.035"/><rect x="77.68" y="231.88" width="6.58" height="2.27" fill="url(#hgc9)" opacity="0.032"/><rect x="78.45" y="233.85" width="6.54" height="2.27" fill="url(#hgc9)" opacity="0.042"/><rect x="77.79" y="235.82" width="6.50" height="2.27" fill="url(#hgc9)" opacity="0.042"/><rect x="77.71" y="237.80" width="6.46" height="2.27" fill="url(#hgc9)" opacity="0.047"/><rect x="77.81" y="239.78" width="6.42" height="2.27" fill="url(#hgc9)" opacity="0.028"/><rect x="77.58" y="241.75" width="6.38" height="2.27" fill="url(#hgc9)" opacity="0.036"/><rect x="77.97" y="243.72" width="6.34" height="2.27" fill="url(#hgc9)" opacity="0.030"/><rect x="77.71" y="245.70" width="6.30" height="2.27" fill="url(#hgc9)" opacity="0.037"/><rect x="78.64" y="247.68" width="6.26" height="2.27" fill="url(#hgc9)" opacity="0.032"/><rect x="78.38" y="249.65" width="6.22" height="2.27" fill="url(#hgc9)" opacity="0.042"/><rect x="78.31" y="251.62" width="6.18" height="2.27" fill="url(#hgc9)" opacity="0.036"/><rect x="77.67" y="253.60" width="6.14" height="2.27" fill="url(#hgc9)" opacity="0.026"/><rect x="78.74" y="255.57" width="6.10" height="2.27" fill="url(#hgc9)" opacity="0.023"/><rect x="78.83" y="257.55" width="6.06" height="2.27" fill="url(#hgc9)" opacity="0.033"/><rect x="78.45" y="259.52" width="6.02" height="2.27" fill="url(#hgc9)" opacity="0.022"/></g>
</g>
<rect x="65.50" y="103.50" width="31.00" height="158.00" fill="none" stroke="#444" stroke-width="1.1"/>
<rect x="102.50" y="103.50" width="31.00" height="158.00" fill="#fdf5f1"/>
<g clip-path="url(#hc2)">
<g filter="url(#hb2)"><rect x="105.88" y="103.50" width="23.83" height="2.27" fill="url(#hgh)" opacity="0.441"/><rect x="106.05" y="105.47" width="23.50" height="2.27" fill="url(#hgh)" opacity="0.422"/><rect x="106.22" y="107.45" width="23.17" height="2.27" fill="url(#hgh)" opacity="0.403"/><rect x="106.38" y="109.42" width="22.83" height="2.27" fill="url(#hgh)" opacity="0.384"/><rect x="106.55" y="111.40" width="22.50" height="2.27" fill="url(#hgh)" opacity="0.366"/><rect x="106.72" y="113.38" width="22.17" height="2.27" fill="url(#hgh)" opacity="0.347"/><rect x="106.88" y="115.35" width="21.83" height="2.27" fill="url(#hgh)" opacity="0.328"/><rect x="107.05" y="117.33" width="21.50" height="2.27" fill="url(#hgh)" opacity="0.309"/><rect x="107.22" y="119.30" width="21.17" height="2.27" fill="url(#hgh)" opacity="0.294"/><rect x="107.38" y="121.28" width="20.83" height="2.27" fill="url(#hgh)" opacity="0.283"/><rect x="107.55" y="123.25" width="20.50" height="2.27" fill="url(#hgh)" opacity="0.272"/><rect x="107.72" y="125.22" width="20.17" height="2.27" fill="url(#hgh)" opacity="0.261"/><rect x="107.88" y="127.20" width="19.83" height="2.27" fill="url(#hgh)" opacity="0.249"/><rect x="108.05" y="129.18" width="19.50" height="2.27" fill="url(#hgh)" opacity="0.238"/><rect x="108.22" y="131.15" width="19.17" height="2.27" fill="url(#hgh)" opacity="0.227"/><rect x="108.38" y="133.12" width="18.83" height="2.27" fill="url(#hgh)" opacity="0.216"/><rect x="108.55" y="135.10" width="18.50" height="2.27" fill="url(#hgh)" opacity="0.204"/><rect x="108.72" y="137.07" width="18.17" height="2.27" fill="url(#hgh)" opacity="0.193"/><rect x="108.88" y="139.05" width="17.83" height="2.27" fill="url(#hgh)" opacity="0.182"/><rect x="109.05" y="141.03" width="17.50" height="2.27" fill="url(#hgh)" opacity="0.171"/><rect x="109.22" y="143.00" width="17.17" height="2.27" fill="url(#hgh)" opacity="0.159"/><rect x="109.38" y="144.97" width="16.83" height="2.27" fill="url(#hgh)" opacity="0.148"/><rect x="109.55" y="146.95" width="16.50" height="2.27" fill="url(#hgh)" opacity="0.137"/><rect x="109.72" y="148.93" width="16.17" height="2.27" fill="url(#hgh)" opacity="0.126"/><rect x="109.83" y="150.90" width="15.95" height="2.27" fill="url(#hgh)" opacity="0.119"/><rect x="109.88" y="152.88" width="15.84" height="2.27" fill="url(#hgh)" opacity="0.116"/><rect x="109.93" y="154.85" width="15.73" height="2.27" fill="url(#hgh)" opacity="0.113"/><rect x="109.99" y="156.82" width="15.62" height="2.27" fill="url(#hgh)" opacity="0.110"/><rect x="110.04" y="158.80" width="15.52" height="2.27" fill="url(#hgh)" opacity="0.107"/><rect x="110.09" y="160.78" width="15.41" height="2.27" fill="url(#hgh)" opacity="0.104"/><rect x="110.15" y="162.75" width="15.30" height="2.27" fill="url(#hgh)" opacity="0.101"/><rect x="110.20" y="164.72" width="15.20" height="2.27" fill="url(#hgh)" opacity="0.098"/><rect x="110.26" y="166.70" width="15.09" height="2.27" fill="url(#hgh)" opacity="0.095"/><rect x="110.31" y="168.68" width="14.98" height="2.27" fill="url(#hgh)" opacity="0.092"/><rect x="110.36" y="170.65" width="14.88" height="2.27" fill="url(#hgh)" opacity="0.089"/><rect x="110.42" y="172.62" width="14.77" height="2.27" fill="url(#hgh)" opacity="0.086"/><rect x="110.47" y="174.60" width="14.66" height="2.27" fill="url(#hgh)" opacity="0.084"/><rect x="110.52" y="176.57" width="14.55" height="2.27" fill="url(#hgh)" opacity="0.081"/><rect x="110.58" y="178.55" width="14.45" height="2.27" fill="url(#hgh)" opacity="0.078"/><rect x="110.63" y="180.53" width="14.34" height="2.27" fill="url(#hgh)" opacity="0.075"/><rect x="110.68" y="182.50" width="14.23" height="2.27" fill="url(#hgh)" opacity="0.072"/><rect x="110.74" y="184.47" width="14.12" height="2.27" fill="url(#hgh)" opacity="0.069"/><rect x="110.79" y="186.45" width="14.02" height="2.27" fill="url(#hgh)" opacity="0.066"/><rect x="110.84" y="188.43" width="13.91" height="2.27" fill="url(#hgh)" opacity="0.063"/><rect x="110.90" y="190.40" width="13.80" height="2.27" fill="url(#hgh)" opacity="0.060"/><rect x="110.95" y="192.38" width="13.70" height="2.27" fill="url(#hgh)" opacity="0.057"/><rect x="111.01" y="194.35" width="13.59" height="2.27" fill="url(#hgh)" opacity="0.054"/><rect x="111.06" y="196.32" width="13.48" height="2.27" fill="url(#hgh)" opacity="0.051"/><rect x="111.11" y="198.30" width="13.38" height="2.27" fill="url(#hgh)" opacity="0.050"/><rect x="111.17" y="200.28" width="13.27" height="2.27" fill="url(#hgh)" opacity="0.049"/><rect x="111.22" y="202.25" width="13.16" height="2.27" fill="url(#hgh)" opacity="0.048"/><rect x="111.27" y="204.22" width="13.05" height="2.27" fill="url(#hgh)" opacity="0.047"/><rect x="111.33" y="206.20" width="12.95" height="2.27" fill="url(#hgh)" opacity="0.046"/><rect x="111.38" y="208.18" width="12.84" height="2.27" fill="url(#hgh)" opacity="0.045"/><rect x="111.43" y="210.15" width="12.73" height="2.27" fill="url(#hgh)" opacity="0.044"/><rect x="111.49" y="212.12" width="12.62" height="2.27" fill="url(#hgh)" opacity="0.043"/><rect x="111.54" y="214.10" width="12.52" height="2.27" fill="url(#hgh)" opacity="0.042"/><rect x="111.59" y="216.07" width="12.41" height="2.27" fill="url(#hgh)" opacity="0.041"/><rect x="111.65" y="218.05" width="12.30" height="2.27" fill="url(#hgh)" opacity="0.040"/><rect x="111.70" y="220.03" width="12.20" height="2.27" fill="url(#hgh)" opacity="0.039"/><rect x="111.76" y="222.00" width="12.09" height="2.27" fill="url(#hgh)" opacity="0.038"/><rect x="111.81" y="223.97" width="11.98" height="2.27" fill="url(#hgh)" opacity="0.037"/><rect x="111.86" y="225.95" width="11.88" height="2.27" fill="url(#hgh)" opacity="0.036"/><rect x="111.92" y="227.93" width="11.77" height="2.27" fill="url(#hgh)" opacity="0.035"/><rect x="111.97" y="229.90" width="11.66" height="2.27" fill="url(#hgh)" opacity="0.035"/><rect x="112.02" y="231.88" width="11.55" height="2.27" fill="url(#hgh)" opacity="0.034"/><rect x="112.08" y="233.85" width="11.45" height="2.27" fill="url(#hgh)" opacity="0.033"/><rect x="112.13" y="235.82" width="11.34" height="2.27" fill="url(#hgh)" opacity="0.032"/><rect x="112.18" y="237.80" width="11.23" height="2.27" fill="url(#hgh)" opacity="0.031"/><rect x="112.24" y="239.78" width="11.12" height="2.27" fill="url(#hgh)" opacity="0.030"/><rect x="112.29" y="241.75" width="11.02" height="2.27" fill="url(#hgh)" opacity="0.029"/><rect x="112.34" y="243.72" width="10.91" height="2.27" fill="url(#hgh)" opacity="0.028"/><rect x="112.40" y="245.70" width="10.80" height="2.27" fill="url(#hgh)" opacity="0.027"/><rect x="112.45" y="247.68" width="10.70" height="2.27" fill="url(#hgh)" opacity="0.026"/><rect x="112.51" y="249.65" width="10.59" height="2.27" fill="url(#hgh)" opacity="0.025"/><rect x="112.56" y="251.62" width="10.48" height="2.27" fill="url(#hgh)" opacity="0.024"/><rect x="112.61" y="253.60" width="10.38" height="2.27" fill="url(#hgh)" opacity="0.023"/><rect x="112.67" y="255.57" width="10.27" height="2.27" fill="url(#hgh)" opacity="0.022"/><rect x="112.72" y="257.55" width="10.16" height="2.27" fill="url(#hgh)" opacity="0.021"/><rect x="112.77" y="259.52" width="10.05" height="2.27" fill="url(#hgh)" opacity="0.020"/></g>
<g filter="url(#hb)"><rect x="111.26" y="103.50" width="13.45" height="2.27" fill="url(#hgc0)" opacity="0.823"/><rect x="110.80" y="105.47" width="13.15" height="2.27" fill="url(#hgc0)" opacity="0.862"/><rect x="111.22" y="107.45" width="12.85" height="2.27" fill="url(#hgc0)" opacity="0.558"/><rect x="111.90" y="109.42" width="12.55" height="2.27" fill="url(#hgc1)" opacity="0.620"/><rect x="111.80" y="111.40" width="12.25" height="2.27" fill="url(#hgc1)" opacity="0.709"/><rect x="112.02" y="113.38" width="11.95" height="2.27" fill="url(#hgc2)" opacity="0.603"/><rect x="111.90" y="115.35" width="11.65" height="2.27" fill="url(#hgc2)" opacity="0.430"/><rect x="112.61" y="117.33" width="11.35" height="2.27" fill="url(#hgc2)" opacity="0.403"/><rect x="112.64" y="119.30" width="11.08" height="2.27" fill="url(#hgc3)" opacity="0.348"/><rect x="112.60" y="121.28" width="10.85" height="2.27" fill="url(#hgc3)" opacity="0.322"/><rect x="112.38" y="123.25" width="10.62" height="2.27" fill="url(#hgc4)" opacity="0.345"/><rect x="112.03" y="125.22" width="10.38" height="2.27" fill="url(#hgc4)" opacity="0.408"/><rect x="113.22" y="127.20" width="10.15" height="2.27" fill="url(#hgc4)" opacity="0.252"/><rect x="112.35" y="129.18" width="9.92" height="2.27" fill="url(#hgc5)" opacity="0.311"/><rect x="113.49" y="131.15" width="9.68" height="2.27" fill="url(#hgc5)" opacity="0.366"/><rect x="112.98" y="133.12" width="9.45" height="2.27" fill="url(#hgc6)" opacity="0.217"/><rect x="112.97" y="135.10" width="9.22" height="2.27" fill="url(#hgc6)" opacity="0.205"/><rect x="112.90" y="137.07" width="8.98" height="2.27" fill="url(#hgc6)" opacity="0.251"/><rect x="112.89" y="139.05" width="8.75" height="2.27" fill="url(#hgc7)" opacity="0.240"/><rect x="113.92" y="141.03" width="8.52" height="2.27" fill="url(#hgc7)" opacity="0.165"/><rect x="113.51" y="143.00" width="8.38" height="2.27" fill="url(#hgc8)" opacity="0.177"/><rect x="113.60" y="144.97" width="8.34" height="2.27" fill="url(#hgc8)" opacity="0.188"/><rect x="113.09" y="146.95" width="8.30" height="2.27" fill="url(#hgc8)" opacity="0.162"/><rect x="114.23" y="148.93" width="8.26" height="2.27" fill="url(#hgc9)" opacity="0.185"/><rect x="113.89" y="150.90" width="8.22" height="2.27" fill="url(#hgc9)" opacity="0.198"/><rect x="113.55" y="152.88" width="8.18" height="2.27" fill="url(#hgc9)" opacity="0.139"/><rect x="113.94" y="154.85" width="8.14" height="2.27" fill="url(#hgc9)" opacity="0.158"/><rect x="113.43" y="156.82" width="8.10" height="2.27" fill="url(#hgc9)" opacity="0.109"/><rect x="113.78" y="158.80" width="8.06" height="2.27" fill="url(#hgc9)" opacity="0.120"/><rect x="113.79" y="160.78" width="8.02" height="2.27" fill="url(#hgc9)" opacity="0.142"/><rect x="114.20" y="162.75" width="7.98" height="2.27" fill="url(#hgc9)" opacity="0.087"/><rect x="113.85" y="164.72" width="7.94" height="2.27" fill="url(#hgc9)" opacity="0.104"/><rect x="113.76" y="166.70" width="7.90" height="2.27" fill="url(#hgc9)" opacity="0.088"/><rect x="114.20" y="168.68" width="7.86" height="2.27" fill="url(#hgc9)" opacity="0.094"/><rect x="113.95" y="170.65" width="7.82" height="2.27" fill="url(#hgc9)" opacity="0.077"/><rect x="114.15" y="172.62" width="7.78" height="2.27" fill="url(#hgc9)" opacity="0.078"/><rect x="113.66" y="174.60" width="7.74" height="2.27" fill="url(#hgc9)" opacity="0.069"/><rect x="114.11" y="176.57" width="7.70" height="2.27" fill="url(#hgc9)" opacity="0.081"/><rect x="113.92" y="178.55" width="7.66" height="2.27" fill="url(#hgc9)" opacity="0.065"/><rect x="113.73" y="180.53" width="7.62" height="2.27" fill="url(#hgc9)" opacity="0.070"/><rect x="114.56" y="182.50" width="7.58" height="2.27" fill="url(#hgc9)" opacity="0.078"/><rect x="114.58" y="184.47" width="7.54" height="2.27" fill="url(#hgc9)" opacity="0.076"/><rect x="114.56" y="186.45" width="7.50" height="2.27" fill="url(#hgc9)" opacity="0.060"/><rect x="113.70" y="188.43" width="7.46" height="2.27" fill="url(#hgc9)" opacity="0.065"/><rect x="114.58" y="190.40" width="7.42" height="2.27" fill="url(#hgc9)" opacity="0.076"/><rect x="113.83" y="192.38" width="7.38" height="2.27" fill="url(#hgc9)" opacity="0.048"/><rect x="113.94" y="194.35" width="7.34" height="2.27" fill="url(#hgc9)" opacity="0.070"/><rect x="113.56" y="196.32" width="7.30" height="2.27" fill="url(#hgc9)" opacity="0.051"/><rect x="114.31" y="198.30" width="7.26" height="2.27" fill="url(#hgc9)" opacity="0.043"/><rect x="114.79" y="200.28" width="7.22" height="2.27" fill="url(#hgc9)" opacity="0.070"/><rect x="113.64" y="202.25" width="7.18" height="2.27" fill="url(#hgc9)" opacity="0.055"/><rect x="114.57" y="204.22" width="7.14" height="2.27" fill="url(#hgc9)" opacity="0.049"/><rect x="114.42" y="206.20" width="7.10" height="2.27" fill="url(#hgc9)" opacity="0.062"/><rect x="114.30" y="208.18" width="7.06" height="2.27" fill="url(#hgc9)" opacity="0.045"/><rect x="114.44" y="210.15" width="7.02" height="2.27" fill="url(#hgc9)" opacity="0.051"/><rect x="114.85" y="212.12" width="6.98" height="2.27" fill="url(#hgc9)" opacity="0.044"/><rect x="113.92" y="214.10" width="6.94" height="2.27" fill="url(#hgc9)" opacity="0.060"/><rect x="114.80" y="216.07" width="6.90" height="2.27" fill="url(#hgc9)" opacity="0.043"/><rect x="114.90" y="218.05" width="6.86" height="2.27" fill="url(#hgc9)" opacity="0.042"/><rect x="114.63" y="220.03" width="6.82" height="2.27" fill="url(#hgc9)" opacity="0.047"/><rect x="114.07" y="222.00" width="6.78" height="2.27" fill="url(#hgc9)" opacity="0.051"/><rect x="114.14" y="223.97" width="6.74" height="2.27" fill="url(#hgc9)" opacity="0.040"/><rect x="114.68" y="225.95" width="6.70" height="2.27" fill="url(#hgc9)" opacity="0.048"/><rect x="114.93" y="227.93" width="6.66" height="2.27" fill="url(#hgc9)" opacity="0.035"/><rect x="114.18" y="229.90" width="6.62" height="2.27" fill="url(#hgc9)" opacity="0.041"/><rect x="115.09" y="231.88" width="6.58" height="2.27" fill="url(#hgc9)" opacity="0.040"/><rect x="114.68" y="233.85" width="6.54" height="2.27" fill="url(#hgc9)" opacity="0.042"/><rect x="115.10" y="235.82" width="6.50" height="2.27" fill="url(#hgc9)" opacity="0.048"/><rect x="114.47" y="237.80" width="6.46" height="2.27" fill="url(#hgc9)" opacity="0.044"/><rect x="115.07" y="239.78" width="6.42" height="2.27" fill="url(#hgc9)" opacity="0.040"/><rect x="114.71" y="241.75" width="6.38" height="2.27" fill="url(#hgc9)" opacity="0.043"/><rect x="114.47" y="243.72" width="6.34" height="2.27" fill="url(#hgc9)" opacity="0.033"/><rect x="114.73" y="245.70" width="6.30" height="2.27" fill="url(#hgc9)" opacity="0.040"/><rect x="114.92" y="247.68" width="6.26" height="2.27" fill="url(#hgc9)" opacity="0.026"/><rect x="115.05" y="249.65" width="6.22" height="2.27" fill="url(#hgc9)" opacity="0.040"/><rect x="115.20" y="251.62" width="6.18" height="2.27" fill="url(#hgc9)" opacity="0.039"/><rect x="115.08" y="253.60" width="6.14" height="2.27" fill="url(#hgc9)" opacity="0.032"/><rect x="114.27" y="255.57" width="6.10" height="2.27" fill="url(#hgc9)" opacity="0.029"/><rect x="114.54" y="257.55" width="6.06" height="2.27" fill="url(#hgc9)" opacity="0.028"/><rect x="115.02" y="259.52" width="6.02" height="2.27" fill="url(#hgc9)" opacity="0.036"/></g>
</g>
<rect x="102.50" y="103.50" width="31.00" height="158.00" fill="none" stroke="#444" stroke-width="1.1"/>
<rect x="29.50" y="72.50" width="31.00" height="28.00" fill="#fff" stroke="#444" stroke-width="1.1"/>
<polyline points="30.00,99.13 30.38,99.12 30.75,99.10 31.12,99.09 31.50,99.07 31.88,99.05 32.25,99.03 32.62,99.01 33.00,98.98 33.38,98.95 33.75,98.92 34.12,98.87 34.50,98.82 34.88,98.76 35.25,98.68 35.62,98.57 36.00,98.44 36.38,98.28 36.75,98.07 37.12,97.80 37.50,97.47 37.88,97.06 38.25,96.54 38.62,95.92 39.00,95.17 39.38,94.29 39.75,93.25 40.12,92.06 40.50,90.72 40.88,89.23 41.25,87.60 41.62,85.86 42.00,84.03 42.38,82.16 42.75,80.28 43.12,78.46 43.50,76.77 43.88,75.29 44.25,74.10 44.62,73.28 45.00,72.92 45.38,73.03 45.75,73.61 46.12,74.61 46.50,75.95 46.88,77.54 47.25,79.30 47.62,81.15 48.00,83.04 48.38,84.89 48.75,86.69 49.12,88.38 49.50,89.94 49.88,91.37 50.25,92.64 50.62,93.75 51.00,94.72 51.38,95.54 51.75,96.23 52.12,96.80 52.50,97.26 52.88,97.64 53.25,97.94 53.62,98.17 54.00,98.36 54.38,98.51 54.75,98.62 55.12,98.72 55.50,98.79 55.88,98.85 56.25,98.89 56.62,98.93 57.00,98.97 57.38,98.99 57.75,99.02 58.12,99.04 58.50,99.06 58.88,99.08 59.25,99.10 59.62,99.11 60.00,99.12" fill="none" stroke="#3e5377" stroke-width="1.05"/>
<line x1="26.90" y1="78.50" x2="29.50" y2="78.50" stroke="#333333" stroke-width="1"/>
<line x1="26.90" y1="86.30" x2="29.50" y2="86.30" stroke="#333333" stroke-width="1"/>
<line x1="26.90" y1="94.00" x2="29.50" y2="94.00" stroke="#333333" stroke-width="1"/>
<rect x="65.50" y="72.50" width="31.00" height="28.00" fill="#fff" stroke="#444" stroke-width="1.1"/>
<polyline points="66.00,99.26 66.38,99.25 66.75,99.24 67.12,99.23 67.50,99.22 67.88,99.21 68.25,99.19 68.62,99.18 69.00,99.15 69.38,99.13 69.75,99.10 70.12,99.06 70.50,99.01 70.88,98.96 71.25,98.89 71.62,98.81 72.00,98.71 72.38,98.59 72.75,98.45 73.12,98.29 73.50,98.09 73.88,97.87 74.25,97.61 74.62,97.31 75.00,96.98 75.38,96.61 75.75,96.20 76.12,95.76 76.50,95.28 76.88,94.77 77.25,94.23 77.62,93.68 78.00,93.11 78.38,92.55 78.75,91.99 79.12,91.45 79.50,90.95 79.88,90.51 80.25,90.13 80.62,89.85 81.00,89.67 81.38,89.60 81.75,89.65 82.12,89.82 82.50,90.09 82.88,90.45 83.25,90.89 83.62,91.38 84.00,91.92 84.38,92.47 84.75,93.04 85.12,93.60 85.50,94.16 85.88,94.70 86.25,95.21 86.62,95.70 87.00,96.15 87.38,96.56 87.75,96.93 88.12,97.27 88.50,97.57 88.88,97.84 89.25,98.06 89.62,98.26 90.00,98.43 90.38,98.58 90.75,98.70 91.12,98.80 91.50,98.88 91.88,98.95 92.25,99.01 92.62,99.05 93.00,99.09 93.38,99.12 93.75,99.15 94.12,99.17 94.50,99.19 94.88,99.21 95.25,99.22 95.62,99.23 96.00,99.24" fill="none" stroke="#3e5377" stroke-width="1.05"/>
<line x1="62.90" y1="78.50" x2="65.50" y2="78.50" stroke="#333333" stroke-width="1"/>
<line x1="62.90" y1="86.30" x2="65.50" y2="86.30" stroke="#333333" stroke-width="1"/>
<line x1="62.90" y1="94.00" x2="65.50" y2="94.00" stroke="#333333" stroke-width="1"/>
<rect x="102.50" y="72.50" width="31.00" height="28.00" fill="#fff" stroke="#444" stroke-width="1.1"/>
<polyline points="103.00,99.24 103.38,99.23 103.75,99.22 104.12,99.21 104.50,99.19 104.88,99.18 105.25,99.16 105.62,99.13 106.00,99.10 106.38,99.07 106.75,99.02 107.12,98.97 107.50,98.90 107.88,98.82 108.25,98.73 108.62,98.61 109.00,98.47 109.38,98.31 109.75,98.12 110.12,97.90 110.50,97.65 110.88,97.36 111.25,97.03 111.62,96.66 112.00,96.26 112.38,95.82 112.75,95.35 113.12,94.84 113.50,94.31 113.88,93.75 114.25,93.19 114.62,92.62 115.00,92.06 115.38,91.52 115.75,91.02 116.12,90.56 116.50,90.18 116.88,89.88 117.25,89.69 117.62,89.60 118.00,89.64 118.38,89.79 118.75,90.05 119.12,90.40 119.50,90.83 119.88,91.32 120.25,91.84 120.62,92.40 121.00,92.96 121.38,93.53 121.75,94.09 122.12,94.63 122.50,95.15 122.88,95.63 123.25,96.09 123.62,96.51 124.00,96.89 124.38,97.23 124.75,97.53 125.12,97.80 125.50,98.04 125.88,98.24 126.25,98.41 126.62,98.56 127.00,98.68 127.38,98.79 127.75,98.87 128.12,98.94 128.50,99.00 128.88,99.05 129.25,99.09 129.62,99.12 130.00,99.15 130.38,99.17 130.75,99.19 131.12,99.20 131.50,99.22 131.88,99.23 132.25,99.24 132.62,99.25 133.00,99.26" fill="none" stroke="#3e5377" stroke-width="1.05"/>
<line x1="99.90" y1="78.50" x2="102.50" y2="78.50" stroke="#333333" stroke-width="1"/>
<line x1="99.90" y1="86.30" x2="102.50" y2="86.30" stroke="#333333" stroke-width="1"/>
<line x1="99.90" y1="94.00" x2="102.50" y2="94.00" stroke="#333333" stroke-width="1"/>
<text x="22.00" y="270.60" font-size="6.3" textLength="14.30" lengthAdjust="spacingAndGlyphs">−1kb</text>
<text x="55.80" y="270.60" font-size="6.3" textLength="10.00" lengthAdjust="spacingAndGlyphs">1kb</text>
<rect x="107.40" y="269.40" width="23.40" height="2.80" fill="url(#cb)" stroke="#444" stroke-width="0.8"/>
<line x1="117.00" y1="272.40" x2="117.00" y2="274.60" stroke="#333" stroke-width="1"/>
<line x1="125.90" y1="272.40" x2="125.90" y2="274.60" stroke="#333" stroke-width="1"/>
<text x="120.40" y="280.30" font-size="6.4" text-anchor="end" textLength="9.20" lengthAdjust="spacingAndGlyphs" transform="rotate(-45 120.40 280.30)">0.8</text>
<text x="129.50" y="280.30" font-size="6.4" text-anchor="end" textLength="9.20" lengthAdjust="spacingAndGlyphs" transform="rotate(-45 129.50 280.30)">1.6</text>
<text x="40.00" y="298.10" font-size="8.6" class="b" textLength="83.50" lengthAdjust="spacingAndGlyphs">Position relative to center of</text>
<text x="57.80" y="307.70" font-size="8.6" class="b" textLength="46.30" lengthAdjust="spacingAndGlyphs">ATAC-seq peaks</text>
<text x="13.90" y="224.60" font-size="7.9" class="b" textLength="83.80" lengthAdjust="spacingAndGlyphs" transform="rotate(-90 13.90 224.60)">ATAC signal compacted sites</text>
<text x="23.90" y="225.30" font-size="7.9" class="b" textLength="45.80" lengthAdjust="spacingAndGlyphs" transform="rotate(-90 23.90 225.30)">in gSMARCA4/2</text>
<text x="23.90" y="177.90" font-size="7.9" class="b" textLength="37.00" lengthAdjust="spacingAndGlyphs" transform="rotate(-90 23.90 177.90)">(n = 9,756)</text>
<text x="153.60" y="16.20" font-size="12" font-weight="bold" fill="#111">L</text>
<text x="165.00" y="27.00" font-size="9" class="b" textLength="64.60" lengthAdjust="spacingAndGlyphs">RUNX1 ChIP-seq</text>
<rect x="187.20" y="35.80" width="13.80" height="42.67" fill="#c6c6ca"/>
<rect x="187.20" y="78.47" width="13.80" height="14.33" fill="#ca0630"/>
<rect x="187.20" y="92.80" width="13.80" height="38.20" fill="#f39200"/>
<line x1="182.50" y1="31.80" x2="182.50" y2="131.50" stroke="#2a2a2a" stroke-width="1"/>
<line x1="181.30" y1="131.00" x2="211.60" y2="131.00" stroke="#2a2a2a" stroke-width="1"/>
<line x1="193.80" y1="131.00" x2="193.80" y2="133.30" stroke="#2a2a2a" stroke-width="0.8"/>
<line x1="180.10" y1="131.00" x2="182.50" y2="131.00" stroke="#2a2a2a" stroke-width="0.9"/>
<text x="176.60" y="133.30" font-size="6.6" text-anchor="end" textLength="3.60" lengthAdjust="spacingAndGlyphs">0</text>
<line x1="180.10" y1="111.90" x2="182.50" y2="111.90" stroke="#2a2a2a" stroke-width="0.9"/>
<text x="176.60" y="114.20" font-size="6.6" text-anchor="end" textLength="7.00" lengthAdjust="spacingAndGlyphs">20</text>
<line x1="180.10" y1="92.80" x2="182.50" y2="92.80" stroke="#2a2a2a" stroke-width="0.9"/>
<text x="176.60" y="95.10" font-size="6.6" text-anchor="end" textLength="7.00" lengthAdjust="spacingAndGlyphs">40</text>
<line x1="180.10" y1="73.70" x2="182.50" y2="73.70" stroke="#2a2a2a" stroke-width="0.9"/>
<text x="176.60" y="76.00" font-size="6.6" text-anchor="end" textLength="7.00" lengthAdjust="spacingAndGlyphs">60</text>
<line x1="180.10" y1="54.60" x2="182.50" y2="54.60" stroke="#2a2a2a" stroke-width="0.9"/>
<text x="176.60" y="56.90" font-size="6.6" text-anchor="end" textLength="7.00" lengthAdjust="spacingAndGlyphs">80</text>
<line x1="180.10" y1="35.50" x2="182.50" y2="35.50" stroke="#2a2a2a" stroke-width="0.9"/>
<text x="176.60" y="37.80" font-size="6.6" text-anchor="end" textLength="10.40" lengthAdjust="spacingAndGlyphs">100</text>
<text x="160.00" y="94.30" font-size="7.6" textLength="26.20" lengthAdjust="spacingAndGlyphs" transform="rotate(-90 160.00 94.30)">Sites (%)</text>
<text x="206.20" y="58.00" font-size="7.0" textLength="32.00" lengthAdjust="spacingAndGlyphs">No binding</text>
<text x="206.20" y="83.80" font-size="7.0" textLength="32.00" lengthAdjust="spacingAndGlyphs">Retained in</text>
<text x="206.20" y="91.50" font-size="7.0" textLength="47.80" lengthAdjust="spacingAndGlyphs">SMARCA4/2-KO</text>
<text x="206.20" y="110.60" font-size="7.0" textLength="40.00" lengthAdjust="spacingAndGlyphs">Dissociated in</text>
<text x="206.20" y="118.10" font-size="7.0" textLength="47.80" lengthAdjust="spacingAndGlyphs">SMARCA4/2-KO</text>
<text x="177.00" y="144.30" font-size="8.4" class="b" textLength="34.20" lengthAdjust="spacingAndGlyphs">ATAC signal</text>
<text x="170.20" y="154.60" font-size="8.4" class="b" textLength="47.60" lengthAdjust="spacingAndGlyphs">compacted sites</text>
<text x="176.00" y="164.60" font-size="8.4" class="b" textLength="36.60" lengthAdjust="spacingAndGlyphs">(n = 9,756)</text>
<text x="270.40" y="16.30" font-size="12" font-weight="bold" fill="#111">M</text>
<text x="359.40" y="26.20" font-size="9.4" class="b" textLength="93.80" lengthAdjust="spacingAndGlyphs">RUNX1-regulated genes</text>
<text x="269.60" y="142.30" font-size="12" font-weight="bold" fill="#111">N</text>
<text x="359.40" y="150.60" font-size="9.4" class="b" textLength="93.80" lengthAdjust="spacingAndGlyphs">RUNX1-regulated genes</text>
<rect x="300.50" y="34.50" width="94.00" height="60.00" fill="#fff"/>
<line x1="300.50" y1="47.50" x2="389.60" y2="47.50" stroke="#e2e2e2" stroke-width="0.9"/>
<rect x="300.90" y="77.00" width="0.10" height="12.80" fill="rgb(193,193,193)"/><rect x="301.00" y="77.00" width="1.00" height="12.80" fill="rgb(169,169,169)"/><rect x="302.00" y="77.00" width="1.00" height="12.80" fill="rgb(200,200,200)"/><rect x="303.00" y="77.00" width="1.00" height="12.80" fill="rgb(250,250,250)"/><rect x="304.00" y="77.00" width="1.00" height="12.80" fill="rgb(97,97,97)"/><rect x="305.00" y="77.00" width="1.00" height="12.80" fill="rgb(234,234,234)"/><rect x="306.00" y="77.00" width="1.00" height="12.80" fill="rgb(242,242,242)"/><rect x="307.00" y="77.00" width="1.00" height="12.80" fill="rgb(60,60,60)"/><rect x="308.00" y="77.00" width="1.00" height="12.80" fill="rgb(151,151,151)"/><rect x="309.00" y="77.00" width="1.00" height="12.80" fill="rgb(90,90,90)"/><rect x="310.00" y="77.00" width="1.00" height="12.80" fill="rgb(185,185,185)"/><rect x="311.00" y="77.00" width="1.00" height="12.80" fill="rgb(226,226,226)"/><rect x="312.00" y="77.00" width="1.00" height="12.80" fill="rgb(232,232,232)"/><rect x="313.00" y="77.00" width="1.00" height="12.80" fill="rgb(168,168,168)"/><rect x="314.00" y="77.00" width="1.00" height="12.80" fill="rgb(243,243,243)"/><rect x="315.00" y="77.00" width="1.00" height="12.80" fill="rgb(182,182,182)"/><rect x="316.00" y="77.00" width="1.00" height="12.80" fill="rgb(234,234,234)"/><rect x="317.00" y="77.00" width="1.00" height="12.80" fill="rgb(71,71,71)"/><rect x="318.00" y="77.00" width="1.00" height="12.80" fill="rgb(121,121,121)"/><rect x="319.00" y="77.00" width="1.00" height="12.80" fill="rgb(191,191,191)"/><rect x="320.00" y="77.00" width="1.00" height="12.80" fill="rgb(71,71,71)"/><rect x="321.00" y="77.00" width="1.00" height="12.80" fill="rgb(130,130,130)"/><rect x="322.00" y="77.00" width="1.00" height="12.80" fill="rgb(181,181,181)"/><rect x="323.00" y="77.00" width="1.00" height="12.80" fill="rgb(227,227,227)"/><rect x="324.00" y="77.00" width="1.00" height="12.80" fill="rgb(77,77,77)"/><rect x="325.00" y="77.00" width="1.00" height="12.80" fill="rgb(124,124,124)"/><rect x="326.00" y="77.00" width="1.00" height="12.80" fill="rgb(54,54,54)"/><rect x="327.00" y="77.00" width="1.00" height="12.80" fill="rgb(50,50,50)"/><rect x="328.00" y="77.00" width="1.00" height="12.80" fill="rgb(226,226,226)"/><rect x="329.00" y="77.00" width="1.00" height="12.80" fill="rgb(151,151,151)"/><rect x="330.00" y="77.00" width="1.00" height="12.80" fill="rgb(194,194,194)"/><rect x="331.00" y="77.00" width="1.00" height="12.80" fill="rgb(119,119,119)"/><rect x="332.00" y="77.00" width="1.00" height="12.80" fill="rgb(234,234,234)"/><rect x="333.00" y="77.00" width="1.00" height="12.80" fill="rgb(238,238,238)"/><rect x="334.00" y="77.00" width="1.00" height="12.80" fill="rgb(80,80,80)"/><rect x="335.00" y="77.00" width="1.00" height="12.80" fill="rgb(247,247,247)"/><rect x="336.00" y="77.00" width="1.00" height="12.80" fill="rgb(226,226,226)"/><rect x="337.00" y="77.00" width="1.00" height="12.80" fill="rgb(174,174,174)"/><rect x="338.00" y="77.00" width="1.00" height="12.80" fill="rgb(242,242,242)"/><rect x="339.00" y="77.00" width="1.00" height="12.80" fill="rgb(241,241,241)"/><rect x="340.00" y="77.00" width="1.00" height="12.80" fill="rgb(248,248,248)"/><rect x="341.00" y="77.00" width="1.00" height="12.80" fill="rgb(157,157,157)"/><rect x="342.00" y="77.00" width="1.00" height="12.80" fill="rgb(79,79,79)"/><rect x="343.00" y="77.00" width="1.00" height="12.80" fill="rgb(104,104,104)"/><rect x="344.00" y="77.00" width="1.00" height="12.80" fill="rgb(250,250,250)"/><rect x="345.00" y="77.00" width="1.00" height="12.80" fill="rgb(55,55,55)"/><rect x="346.00" y="77.00" width="1.00" height="12.80" fill="rgb(237,237,237)"/><rect x="347.00" y="77.00" width="1.00" height="12.80" fill="rgb(197,197,197)"/><rect x="348.00" y="77.00" width="1.00" height="12.80" fill="rgb(229,229,229)"/><rect x="349.00" y="77.00" width="1.00" height="12.80" fill="rgb(233,233,233)"/><rect x="350.00" y="77.00" width="1.00" height="12.80" fill="rgb(244,244,244)"/><rect x="351.00" y="77.00" width="1.00" height="12.80" fill="rgb(234,234,234)"/><rect x="352.00" y="77.00" width="1.00" height="12.80" fill="rgb(69,69,69)"/><rect x="353.00" y="77.00" width="1.00" height="12.80" fill="rgb(243,243,243)"/><rect x="354.00" y="77.00" width="1.00" height="12.80" fill="rgb(53,53,53)"/><rect x="355.00" y="77.00" width="1.00" height="12.80" fill="rgb(145,145,145)"/><rect x="356.00" y="77.00" width="1.00" height="12.80" fill="rgb(82,82,82)"/><rect x="357.00" y="77.00" width="1.00" height="12.80" fill="rgb(173,173,173)"/><rect x="358.00" y="77.00" width="1.00" height="12.80" fill="rgb(84,84,84)"/><rect x="359.00" y="77.00" width="1.00" height="12.80" fill="rgb(96,96,96)"/><rect x="360.00" y="77.00" width="1.00" height="12.80" fill="rgb(129,129,129)"/><rect x="361.00" y="77.00" width="1.00" height="12.80" fill="rgb(113,113,113)"/><rect x="362.00" y="77.00" width="1.00" height="12.80" fill="rgb(90,90,90)"/><rect x="363.00" y="77.00" width="1.00" height="12.80" fill="rgb(191,191,191)"/><rect x="364.00" y="77.00" width="1.00" height="12.80" fill="rgb(237,237,237)"/><rect x="365.00" y="77.00" width="1.00" height="12.80" fill="rgb(60,60,60)"/><rect x="366.00" y="77.00" width="1.00" height="12.80" fill="rgb(66,66,66)"/><rect x="367.00" y="77.00" width="1.00" height="12.80" fill="rgb(241,241,241)"/><rect x="368.00" y="77.00" width="1.00" height="12.80" fill="rgb(101,101,101)"/><rect x="369.00" y="77.00" width="1.00" height="12.80" fill="rgb(140,140,140)"/><rect x="370.00" y="77.00" width="1.00" height="12.80" fill="rgb(244,244,244)"/><rect x="371.00" y="77.00" width="1.00" height="12.80" fill="rgb(173,173,173)"/><rect x="372.00" y="77.00" width="1.00" height="12.80" fill="rgb(248,248,248)"/><rect x="373.00" y="77.00" width="1.00" height="12.80" fill="rgb(72,72,72)"/><rect x="374.00" y="77.00" width="1.00" height="12.80" fill="rgb(81,81,81)"/><rect x="375.00" y="77.00" width="1.00" height="12.80" fill="rgb(88,88,88)"/><rect x="376.00" y="77.00" width="1.00" height="12.80" fill="rgb(45,45,45)"/><rect x="377.00" y="77.00" width="1.00" height="12.80" fill="rgb(36,36,36)"/><rect x="378.00" y="77.00" width="1.00" height="12.80" fill="rgb(18,18,18)"/><rect x="379.00" y="77.00" width="1.00" height="12.80" fill="rgb(67,67,67)"/><rect x="380.00" y="77.00" width="1.00" height="12.80" fill="rgb(15,15,15)"/><rect x="381.00" y="77.00" width="1.00" height="12.80" fill="rgb(57,57,57)"/><rect x="382.00" y="77.00" width="1.00" height="12.80" fill="rgb(26,26,26)"/><rect x="383.00" y="77.00" width="1.00" height="12.80" fill="rgb(229,229,229)"/><rect x="384.00" y="77.00" width="1.00" height="12.80" fill="rgb(52,52,52)"/><rect x="385.00" y="77.00" width="1.00" height="12.80" fill="rgb(98,98,98)"/><rect x="386.00" y="77.00" width="1.00" height="12.80" fill="rgb(27,27,27)"/><rect x="387.00" y="77.00" width="1.00" height="12.80" fill="rgb(12,12,12)"/><rect x="388.00" y="77.00" width="1.00" height="12.80" fill="rgb(55,55,55)"/><rect x="389.00" y="77.00" width="0.60" height="12.80" fill="rgb(14,14,14)"/>
<rect x="300.90" y="89.80" width="88.70" height="4.30" fill="url(#st11)"/>
<polyline points="300.50,46.80 300.54,46.77 300.59,46.74 300.65,46.72 300.72,46.68 300.80,46.61 300.89,46.50 300.99,46.34 301.10,46.10 301.23,45.78 301.37,45.38 301.53,44.91 301.70,44.41 301.87,43.89 302.05,43.37 302.23,42.86 302.40,42.40 302.57,41.96 302.74,41.51 302.92,41.07 303.09,40.64 303.27,40.22 303.45,39.82 303.62,39.44 303.80,39.10 303.97,38.79 304.14,38.51 304.30,38.25 304.47,38.01 304.64,37.79 304.81,37.58 305.00,37.38 305.20,37.20 305.41,37.02 305.63,36.86 305.86,36.70 306.09,36.56 306.34,36.44 306.59,36.34 306.84,36.26 307.10,36.20 307.37,36.17 307.64,36.18 307.93,36.21 308.22,36.26 308.51,36.32 308.81,36.39 309.10,36.45 309.40,36.50 309.70,36.55 310.00,36.61 310.30,36.68 310.60,36.74 310.90,36.80 311.20,36.85 311.50,36.89 311.80,36.90 312.08,36.88 312.33,36.83 312.56,36.76 312.81,36.68 313.07,36.60 313.36,36.54 313.70,36.50 314.10,36.50 314.57,36.53 315.11,36.57 315.69,36.63 316.30,36.71 316.93,36.80 317.57,36.91 318.20,37.05 318.80,37.20 319.39,37.38 319.98,37.58 320.56,37.81 321.15,38.05 321.74,38.31 322.32,38.57 322.91,38.84 323.50,39.10 324.09,39.36 324.68,39.64 325.26,39.91 325.85,40.19 326.44,40.48 327.02,40.78 327.61,41.09 328.20,41.40 328.79,41.72 329.38,42.04 329.96,42.37 330.55,42.71 331.14,43.05 331.72,43.42 332.31,43.80 332.90,44.20 333.49,44.63 334.10,45.10 334.71,45.59 335.31,46.09 335.91,46.60 336.50,47.09 337.06,47.56 337.60,48.00 338.10,48.39 338.56,48.74 338.99,49.07 339.41,49.39 339.83,49.71 340.28,50.06 340.76,50.45 341.30,50.90 341.89,51.41 342.53,51.98 343.20,52.58 343.90,53.21 344.61,53.85 345.32,54.49 346.02,55.11 346.70,55.70 347.37,56.26 348.03,56.81 348.69,57.35 349.36,57.88 350.02,58.41 350.68,58.94 351.34,59.47 352.00,60.00 352.66,60.54 353.32,61.09 353.98,61.64 354.64,62.19 355.31,62.73 355.97,63.27 356.63,63.79 357.30,64.30 357.97,64.79 358.65,65.28 359.32,65.75 360.00,66.22 360.68,66.68 361.35,67.12 362.03,67.57 362.70,68.00 363.37,68.43 364.03,68.85 364.69,69.27 365.34,69.68 366.00,70.08 366.66,70.47 367.33,70.84 368.00,71.20 368.69,71.55 369.40,71.89 370.12,72.22 370.84,72.54 371.55,72.85 372.24,73.12 372.89,73.38 373.50,73.60 374.07,73.79 374.60,73.96 375.11,74.10 375.59,74.23 376.04,74.32 376.48,74.40 376.90,74.46 377.30,74.50 377.68,74.51 378.03,74.47 378.36,74.41 378.67,74.33 378.96,74.25 379.25,74.17 379.53,74.12 379.80,74.10 380.06,74.13 380.30,74.19 380.53,74.28 380.75,74.38 380.97,74.46 381.20,74.52 381.44,74.54 381.70,74.50 381.99,74.40 382.30,74.24 382.62,74.04 382.95,73.82 383.28,73.58 383.60,73.34 383.91,73.11 384.20,72.90 384.47,72.72 384.73,72.57 384.97,72.43 385.21,72.29 385.44,72.13 385.67,71.93 385.89,71.70 386.10,71.40 386.31,71.04 386.51,70.64 386.71,70.20 386.91,69.72 387.09,69.21 387.27,68.69 387.44,68.15 387.60,67.60 387.75,67.05 387.89,66.49 388.03,65.92 388.16,65.33 388.28,64.71 388.39,64.05 388.50,63.35 388.60,62.60 388.70,61.79 388.78,60.92 388.86,60.00 388.94,59.05 389.01,58.07 389.07,57.08 389.14,56.09 389.20,55.10 389.26,54.05 389.32,52.91 389.38,51.72 389.44,50.53 389.49,49.41 389.53,48.39 389.57,47.54 389.60,46.90" fill="none" stroke="#8cbc4c" stroke-width="1.0" stroke-linejoin="round"/>
<rect x="300.50" y="34.50" width="94.00" height="60.00" fill="none" stroke="#333333" stroke-width="1"/>
<line x1="297.60" y1="39.50" x2="300.50" y2="39.50" stroke="#333333" stroke-width="1"/>
<text x="294.10" y="42.40" font-size="6.6" text-anchor="end" textLength="8.70" lengthAdjust="spacingAndGlyphs">0.1</text>
<line x1="297.60" y1="47.50" x2="300.50" y2="47.50" stroke="#333333" stroke-width="1"/>
<text x="294.10" y="49.70" font-size="6.6" text-anchor="end" textLength="8.70" lengthAdjust="spacingAndGlyphs">0.0</text>
<line x1="297.60" y1="54.50" x2="300.50" y2="54.50" stroke="#333333" stroke-width="1"/>
<text x="294.10" y="57.00" font-size="6.6" text-anchor="end" textLength="11.20" lengthAdjust="spacingAndGlyphs">−0.1</text>
<line x1="297.60" y1="61.50" x2="300.50" y2="61.50" stroke="#333333" stroke-width="1"/>
<text x="294.10" y="64.30" font-size="6.6" text-anchor="end" textLength="11.20" lengthAdjust="spacingAndGlyphs">−0.2</text>
<line x1="297.60" y1="68.50" x2="300.50" y2="68.50" stroke="#333333" stroke-width="1"/>
<text x="294.10" y="71.60" font-size="6.6" text-anchor="end" textLength="11.20" lengthAdjust="spacingAndGlyphs">−0.3</text>
<line x1="297.60" y1="76.50" x2="300.50" y2="76.50" stroke="#333333" stroke-width="1"/>
<text x="294.10" y="78.90" font-size="6.6" text-anchor="end" textLength="11.20" lengthAdjust="spacingAndGlyphs">−0.4</text>
<text x="306.80" y="62.90" font-size="7.0" textLength="35.80" lengthAdjust="spacingAndGlyphs">NES = −1.73</text>
<text x="306.80" y="70.30" font-size="7.0" textLength="41.60" lengthAdjust="spacingAndGlyphs">FDR q = 0.017</text>
<rect x="418.50" y="34.50" width="94.60" height="60.00" fill="#fff"/>
<line x1="418.50" y1="41.50" x2="508.50" y2="41.50" stroke="#e2e2e2" stroke-width="0.9"/>
<rect x="418.90" y="77.30" width="0.10" height="12.70" fill="rgb(185,185,185)"/><rect x="419.00" y="77.30" width="1.00" height="12.70" fill="rgb(86,86,86)"/><rect x="420.00" y="77.30" width="1.00" height="12.70" fill="rgb(145,145,145)"/><rect x="421.00" y="77.30" width="1.00" height="12.70" fill="rgb(167,167,167)"/><rect x="422.00" y="77.30" width="1.00" height="12.70" fill="rgb(108,108,108)"/><rect x="423.00" y="77.30" width="1.00" height="12.70" fill="rgb(87,87,87)"/><rect x="424.00" y="77.30" width="1.00" height="12.70" fill="rgb(144,144,144)"/><rect x="425.00" y="77.30" width="1.00" height="12.70" fill="rgb(231,231,231)"/><rect x="426.00" y="77.30" width="1.00" height="12.70" fill="rgb(231,231,231)"/><rect x="427.00" y="77.30" width="1.00" height="12.70" fill="rgb(246,246,246)"/><rect x="428.00" y="77.30" width="1.00" height="12.70" fill="rgb(153,153,153)"/><rect x="429.00" y="77.30" width="1.00" height="12.70" fill="rgb(72,72,72)"/><rect x="430.00" y="77.30" width="1.00" height="12.70" fill="rgb(226,226,226)"/><rect x="431.00" y="77.30" width="1.00" height="12.70" fill="rgb(180,180,180)"/><rect x="432.00" y="77.30" width="1.00" height="12.70" fill="rgb(238,238,238)"/><rect x="433.00" y="77.30" width="1.00" height="12.70" fill="rgb(78,78,78)"/><rect x="434.00" y="77.30" width="1.00" height="12.70" fill="rgb(84,84,84)"/><rect x="435.00" y="77.30" width="1.00" height="12.70" fill="rgb(192,192,192)"/><rect x="436.00" y="77.30" width="1.00" height="12.70" fill="rgb(247,247,247)"/><rect x="437.00" y="77.30" width="1.00" height="12.70" fill="rgb(192,192,192)"/><rect x="438.00" y="77.30" width="1.00" height="12.70" fill="rgb(227,227,227)"/><rect x="439.00" y="77.30" width="1.00" height="12.70" fill="rgb(157,157,157)"/><rect x="440.00" y="77.30" width="1.00" height="12.70" fill="rgb(170,170,170)"/><rect x="441.00" y="77.30" width="1.00" height="12.70" fill="rgb(148,148,148)"/><rect x="442.00" y="77.30" width="1.00" height="12.70" fill="rgb(71,71,71)"/><rect x="443.00" y="77.30" width="1.00" height="12.70" fill="rgb(116,116,116)"/><rect x="444.00" y="77.30" width="1.00" height="12.70" fill="rgb(236,236,236)"/><rect x="445.00" y="77.30" width="1.00" height="12.70" fill="rgb(148,148,148)"/><rect x="446.00" y="77.30" width="1.00" height="12.70" fill="rgb(79,79,79)"/><rect x="447.00" y="77.30" width="1.00" height="12.70" fill="rgb(235,235,235)"/><rect x="448.00" y="77.30" width="1.00" height="12.70" fill="rgb(180,180,180)"/><rect x="449.00" y="77.30" width="1.00" height="12.70" fill="rgb(178,178,178)"/><rect x="450.00" y="77.30" width="1.00" height="12.70" fill="rgb(237,237,237)"/><rect x="451.00" y="77.30" width="1.00" height="12.70" fill="rgb(160,160,160)"/><rect x="452.00" y="77.30" width="1.00" height="12.70" fill="rgb(225,225,225)"/><rect x="453.00" y="77.30" width="1.00" height="12.70" fill="rgb(238,238,238)"/><rect x="454.00" y="77.30" width="1.00" height="12.70" fill="rgb(231,231,231)"/><rect x="455.00" y="77.30" width="1.00" height="12.70" fill="rgb(76,76,76)"/><rect x="456.00" y="77.30" width="1.00" height="12.70" fill="rgb(106,106,106)"/><rect x="457.00" y="77.30" width="1.00" height="12.70" fill="rgb(247,247,247)"/><rect x="458.00" y="77.30" width="1.00" height="12.70" fill="rgb(238,238,238)"/><rect x="459.00" y="77.30" width="1.00" height="12.70" fill="rgb(236,236,236)"/><rect x="460.00" y="77.30" width="1.00" height="12.70" fill="rgb(63,63,63)"/><rect x="461.00" y="77.30" width="1.00" height="12.70" fill="rgb(144,144,144)"/><rect x="462.00" y="77.30" width="1.00" height="12.70" fill="rgb(234,234,234)"/><rect x="463.00" y="77.30" width="1.00" height="12.70" fill="rgb(173,173,173)"/><rect x="464.00" y="77.30" width="1.00" height="12.70" fill="rgb(230,230,230)"/><rect x="465.00" y="77.30" width="1.00" height="12.70" fill="rgb(190,190,190)"/><rect x="466.00" y="77.30" width="1.00" height="12.70" fill="rgb(98,98,98)"/><rect x="467.00" y="77.30" width="1.00" height="12.70" fill="rgb(106,106,106)"/><rect x="468.00" y="77.30" width="1.00" height="12.70" fill="rgb(51,51,51)"/><rect x="469.00" y="77.30" width="1.00" height="12.70" fill="rgb(137,137,137)"/><rect x="470.00" y="77.30" width="1.00" height="12.70" fill="rgb(250,250,250)"/><rect x="471.00" y="77.30" width="1.00" height="12.70" fill="rgb(226,226,226)"/><rect x="472.00" y="77.30" width="1.00" height="12.70" fill="rgb(228,228,228)"/><rect x="473.00" y="77.30" width="1.00" height="12.70" fill="rgb(189,189,189)"/><rect x="474.00" y="77.30" width="1.00" height="12.70" fill="rgb(56,56,56)"/><rect x="475.00" y="77.30" width="1.00" height="12.70" fill="rgb(121,121,121)"/><rect x="476.00" y="77.30" width="1.00" height="12.70" fill="rgb(108,108,108)"/><rect x="477.00" y="77.30" width="1.00" height="12.70" fill="rgb(178,178,178)"/><rect x="478.00" y="77.30" width="1.00" height="12.70" fill="rgb(140,140,140)"/><rect x="479.00" y="77.30" width="1.00" height="12.70" fill="rgb(239,239,239)"/><rect x="480.00" y="77.30" width="1.00" height="12.70" fill="rgb(91,91,91)"/><rect x="481.00" y="77.30" width="1.00" height="12.70" fill="rgb(61,61,61)"/><rect x="482.00" y="77.30" width="1.00" height="12.70" fill="rgb(241,241,241)"/><rect x="483.00" y="77.30" width="1.00" height="12.70" fill="rgb(153,153,153)"/><rect x="484.00" y="77.30" width="1.00" height="12.70" fill="rgb(94,94,94)"/><rect x="485.00" y="77.30" width="1.00" height="12.70" fill="rgb(173,173,173)"/><rect x="486.00" y="77.30" width="1.00" height="12.70" fill="rgb(246,246,246)"/><rect x="487.00" y="77.30" width="1.00" height="12.70" fill="rgb(225,225,225)"/><rect x="488.00" y="77.30" width="1.00" height="12.70" fill="rgb(233,233,233)"/><rect x="489.00" y="77.30" width="1.00" height="12.70" fill="rgb(101,101,101)"/><rect x="490.00" y="77.30" width="1.00" height="12.70" fill="rgb(240,240,240)"/><rect x="491.00" y="77.30" width="1.00" height="12.70" fill="rgb(106,106,106)"/><rect x="492.00" y="77.30" width="1.00" height="12.70" fill="rgb(146,146,146)"/><rect x="493.00" y="77.30" width="1.00" height="12.70" fill="rgb(21,21,21)"/><rect x="494.00" y="77.30" width="1.00" height="12.70" fill="rgb(111,111,111)"/><rect x="495.00" y="77.30" width="1.00" height="12.70" fill="rgb(81,81,81)"/><rect x="496.00" y="77.30" width="1.00" height="12.70" fill="rgb(57,57,57)"/><rect x="497.00" y="77.30" width="1.00" height="12.70" fill="rgb(59,59,59)"/><rect x="498.00" y="77.30" width="1.00" height="12.70" fill="rgb(12,12,12)"/><rect x="499.00" y="77.30" width="1.00" height="12.70" fill="rgb(29,29,29)"/><rect x="500.00" y="77.30" width="1.00" height="12.70" fill="rgb(112,112,112)"/><rect x="501.00" y="77.30" width="1.00" height="12.70" fill="rgb(227,227,227)"/><rect x="502.00" y="77.30" width="1.00" height="12.70" fill="rgb(78,78,78)"/><rect x="503.00" y="77.30" width="1.00" height="12.70" fill="rgb(58,58,58)"/><rect x="504.00" y="77.30" width="1.00" height="12.70" fill="rgb(100,100,100)"/><rect x="505.00" y="77.30" width="1.00" height="12.70" fill="rgb(49,49,49)"/><rect x="506.00" y="77.30" width="1.00" height="12.70" fill="rgb(111,111,111)"/><rect x="507.00" y="77.30" width="1.00" height="12.70" fill="rgb(79,79,79)"/><rect x="508.00" y="77.30" width="0.50" height="12.70" fill="rgb(88,88,88)"/>
<rect x="418.90" y="90.00" width="89.60" height="4.10" fill="url(#st12)"/>
<polyline points="418.80,39.50 418.84,39.43 418.89,39.34 418.95,39.24 419.01,39.12 419.09,38.99 419.18,38.86 419.28,38.73 419.40,38.60 419.53,38.47 419.66,38.34 419.80,38.20 419.96,38.06 420.14,37.91 420.33,37.77 420.55,37.63 420.80,37.50 421.08,37.37 421.40,37.23 421.74,37.09 422.11,36.95 422.48,36.82 422.86,36.70 423.24,36.59 423.60,36.50 423.96,36.42 424.32,36.35 424.68,36.29 425.05,36.24 425.42,36.21 425.78,36.19 426.14,36.18 426.50,36.20 426.85,36.23 427.21,36.29 427.56,36.35 427.91,36.44 428.25,36.53 428.60,36.65 428.95,36.77 429.30,36.90 429.64,37.04 429.96,37.20 430.27,37.36 430.58,37.54 430.91,37.73 431.27,37.94 431.66,38.16 432.10,38.40 432.60,38.66 433.14,38.95 433.72,39.25 434.33,39.56 434.95,39.89 435.58,40.22 436.20,40.56 436.80,40.90 437.39,41.24 437.98,41.60 438.56,41.96 439.15,42.33 439.74,42.70 440.32,43.07 440.91,43.44 441.50,43.80 442.09,44.15 442.68,44.51 443.26,44.86 443.85,45.21 444.44,45.55 445.02,45.90 445.61,46.25 446.20,46.60 446.79,46.95 447.38,47.30 447.96,47.65 448.55,48.00 449.14,48.35 449.72,48.70 450.31,49.05 450.90,49.40 451.50,49.76 452.11,50.12 452.73,50.49 453.35,50.86 453.95,51.22 454.54,51.56 455.09,51.89 455.60,52.20 456.05,52.47 456.45,52.71 456.81,52.92 457.15,53.12 457.49,53.32 457.85,53.55 458.25,53.80 458.70,54.10 459.21,54.45 459.76,54.83 460.35,55.23 460.95,55.66 461.57,56.10 462.19,56.54 462.80,56.98 463.40,57.40 463.99,57.81 464.57,58.23 465.16,58.64 465.75,59.05 466.34,59.46 466.93,59.87 467.51,60.29 468.10,60.70 468.69,61.12 469.28,61.54 469.86,61.96 470.45,62.38 471.04,62.80 471.63,63.21 472.21,63.61 472.80,64.00 473.39,64.38 473.98,64.74 474.56,65.10 475.15,65.46 475.74,65.80 476.32,66.14 476.91,66.47 477.50,66.80 478.09,67.12 478.68,67.44 479.26,67.75 479.85,68.06 480.44,68.35 481.02,68.64 481.61,68.93 482.20,69.20 482.80,69.47 483.41,69.74 484.03,70.00 484.64,70.25 485.25,70.49 485.83,70.71 486.38,70.92 486.90,71.10 487.36,71.25 487.78,71.36 488.17,71.45 488.53,71.52 488.89,71.59 489.26,71.67 489.66,71.77 490.10,71.90 490.58,72.07 491.08,72.26 491.61,72.46 492.14,72.68 492.69,72.90 493.23,73.12 493.77,73.32 494.30,73.50 494.83,73.67 495.36,73.85 495.90,74.03 496.44,74.19 496.96,74.34 497.47,74.46 497.95,74.55 498.40,74.60 498.82,74.61 499.21,74.58 499.58,74.52 499.93,74.43 500.27,74.32 500.59,74.19 500.90,74.05 501.20,73.90 501.49,73.75 501.77,73.59 502.03,73.42 502.29,73.23 502.53,73.01 502.76,72.76 502.98,72.46 503.20,72.10 503.40,71.70 503.59,71.27 503.77,70.81 503.94,70.31 504.10,69.75 504.26,69.14 504.43,68.45 504.60,67.70 504.78,66.86 504.95,65.93 505.12,64.93 505.30,63.88 505.48,62.78 505.65,61.66 505.83,60.53 506.00,59.40 506.18,58.26 506.36,57.08 506.54,55.87 506.72,54.64 506.90,53.41 507.07,52.19 507.24,50.98 507.40,49.80 507.56,48.58 507.72,47.30 507.88,45.99 508.04,44.70 508.18,43.49 508.31,42.40 508.42,41.49 508.50,40.80" fill="none" stroke="#8cbc4c" stroke-width="1.0" stroke-linejoin="round"/>
<rect x="418.50" y="34.50" width="94.60" height="60.00" fill="none" stroke="#333333" stroke-width="1"/>
<line x1="415.60" y1="35.50" x2="418.50" y2="35.50" stroke="#333333" stroke-width="1"/>
<text x="412.10" y="37.90" font-size="6.6" text-anchor="end" textLength="8.70" lengthAdjust="spacingAndGlyphs">0.1</text>
<line x1="415.60" y1="41.50" x2="418.50" y2="41.50" stroke="#333333" stroke-width="1"/>
<text x="412.10" y="43.80" font-size="6.6" text-anchor="end" textLength="8.70" lengthAdjust="spacingAndGlyphs">0.0</text>
<line x1="415.60" y1="47.50" x2="418.50" y2="47.50" stroke="#333333" stroke-width="1"/>
<text x="412.10" y="49.70" font-size="6.6" text-anchor="end" textLength="11.20" lengthAdjust="spacingAndGlyphs">−0.1</text>
<line x1="415.60" y1="52.50" x2="418.50" y2="52.50" stroke="#333333" stroke-width="1"/>
<text x="412.10" y="55.60" font-size="6.6" text-anchor="end" textLength="11.20" lengthAdjust="spacingAndGlyphs">−0.2</text>
<line x1="415.60" y1="58.50" x2="418.50" y2="58.50" stroke="#333333" stroke-width="1"/>
<text x="412.10" y="61.50" font-size="6.6" text-anchor="end" textLength="11.20" lengthAdjust="spacingAndGlyphs">−0.3</text>
<line x1="415.60" y1="64.50" x2="418.50" y2="64.50" stroke="#333333" stroke-width="1"/>
<text x="412.10" y="67.40" font-size="6.6" text-anchor="end" textLength="11.20" lengthAdjust="spacingAndGlyphs">−0.4</text>
<line x1="415.60" y1="70.50" x2="418.50" y2="70.50" stroke="#333333" stroke-width="1"/>
<text x="412.10" y="73.30" font-size="6.6" text-anchor="end" textLength="11.20" lengthAdjust="spacingAndGlyphs">−0.5</text>
<line x1="415.60" y1="76.50" x2="418.50" y2="76.50" stroke="#333333" stroke-width="1"/>
<text x="412.10" y="79.20" font-size="6.6" text-anchor="end" textLength="11.20" lengthAdjust="spacingAndGlyphs">−0.6</text>
<text x="424.80" y="62.90" font-size="7.0" textLength="35.80" lengthAdjust="spacingAndGlyphs">NES = −2.06</text>
<text x="424.80" y="70.30" font-size="7.0" textLength="41.00" lengthAdjust="spacingAndGlyphs">FDR q &lt; 0.001</text>
<rect x="300.50" y="154.50" width="94.00" height="61.00" fill="#fff"/>
<line x1="300.50" y1="157.50" x2="389.70" y2="157.50" stroke="#e2e2e2" stroke-width="0.9"/>
<rect x="300.90" y="197.60" width="0.10" height="12.70" fill="rgb(246,246,246)"/><rect x="301.00" y="197.60" width="1.00" height="12.70" fill="rgb(97,97,97)"/><rect x="302.00" y="197.60" width="1.00" height="12.70" fill="rgb(87,87,87)"/><rect x="303.00" y="197.60" width="1.00" height="12.70" fill="rgb(97,97,97)"/><rect x="304.00" y="197.60" width="1.00" height="12.70" fill="rgb(242,242,242)"/><rect x="305.00" y="197.60" width="1.00" height="12.70" fill="rgb(125,125,125)"/><rect x="306.00" y="197.60" width="1.00" height="12.70" fill="rgb(229,229,229)"/><rect x="307.00" y="197.60" width="1.00" height="12.70" fill="rgb(53,53,53)"/><rect x="308.00" y="197.60" width="1.00" height="12.70" fill="rgb(87,87,87)"/><rect x="309.00" y="197.60" width="1.00" height="12.70" fill="rgb(250,250,250)"/><rect x="310.00" y="197.60" width="1.00" height="12.70" fill="rgb(117,117,117)"/><rect x="311.00" y="197.60" width="1.00" height="12.70" fill="rgb(161,161,161)"/><rect x="312.00" y="197.60" width="1.00" height="12.70" fill="rgb(115,115,115)"/><rect x="313.00" y="197.60" width="1.00" height="12.70" fill="rgb(232,232,232)"/><rect x="314.00" y="197.60" width="1.00" height="12.70" fill="rgb(190,190,190)"/><rect x="315.00" y="197.60" width="1.00" height="12.70" fill="rgb(159,159,159)"/><rect x="316.00" y="197.60" width="1.00" height="12.70" fill="rgb(160,160,160)"/><rect x="317.00" y="197.60" width="1.00" height="12.70" fill="rgb(80,80,80)"/><rect x="318.00" y="197.60" width="1.00" height="12.70" fill="rgb(244,244,244)"/><rect x="319.00" y="197.60" width="1.00" height="12.70" fill="rgb(117,117,117)"/><rect x="320.00" y="197.60" width="1.00" height="12.70" fill="rgb(191,191,191)"/><rect x="321.00" y="197.60" width="1.00" height="12.70" fill="rgb(84,84,84)"/><rect x="322.00" y="197.60" width="1.00" height="12.70" fill="rgb(163,163,163)"/><rect x="323.00" y="197.60" width="1.00" height="12.70" fill="rgb(125,125,125)"/><rect x="324.00" y="197.60" width="1.00" height="12.70" fill="rgb(241,241,241)"/><rect x="325.00" y="197.60" width="1.00" height="12.70" fill="rgb(236,236,236)"/><rect x="326.00" y="197.60" width="1.00" height="12.70" fill="rgb(121,121,121)"/><rect x="327.00" y="197.60" width="1.00" height="12.70" fill="rgb(83,83,83)"/><rect x="328.00" y="197.60" width="1.00" height="12.70" fill="rgb(190,190,190)"/><rect x="329.00" y="197.60" width="1.00" height="12.70" fill="rgb(232,232,232)"/><rect x="330.00" y="197.60" width="1.00" height="12.70" fill="rgb(143,143,143)"/><rect x="331.00" y="197.60" width="1.00" height="12.70" fill="rgb(238,238,238)"/><rect x="332.00" y="197.60" width="1.00" height="12.70" fill="rgb(168,168,168)"/><rect x="333.00" y="197.60" width="1.00" height="12.70" fill="rgb(158,158,158)"/><rect x="334.00" y="197.60" width="1.00" height="12.70" fill="rgb(61,61,61)"/><rect x="335.00" y="197.60" width="1.00" height="12.70" fill="rgb(240,240,240)"/><rect x="336.00" y="197.60" width="1.00" height="12.70" fill="rgb(163,163,163)"/><rect x="337.00" y="197.60" width="1.00" height="12.70" fill="rgb(90,90,90)"/><rect x="338.00" y="197.60" width="1.00" height="12.70" fill="rgb(114,114,114)"/><rect x="339.00" y="197.60" width="1.00" height="12.70" fill="rgb(139,139,139)"/><rect x="340.00" y="197.60" width="1.00" height="12.70" fill="rgb(245,245,245)"/><rect x="341.00" y="197.60" width="1.00" height="12.70" fill="rgb(85,85,85)"/><rect x="342.00" y="197.60" width="1.00" height="12.70" fill="rgb(110,110,110)"/><rect x="343.00" y="197.60" width="1.00" height="12.70" fill="rgb(104,104,104)"/><rect x="344.00" y="197.60" width="1.00" height="12.70" fill="rgb(60,60,60)"/><rect x="345.00" y="197.60" width="1.00" height="12.70" fill="rgb(59,59,59)"/><rect x="346.00" y="197.60" width="1.00" height="12.70" fill="rgb(248,248,248)"/><rect x="347.00" y="197.60" width="1.00" height="12.70" fill="rgb(96,96,96)"/><rect x="348.00" y="197.60" width="1.00" height="12.70" fill="rgb(230,230,230)"/><rect x="349.00" y="197.60" width="1.00" height="12.70" fill="rgb(192,192,192)"/><rect x="350.00" y="197.60" width="1.00" height="12.70" fill="rgb(232,232,232)"/><rect x="351.00" y="197.60" width="1.00" height="12.70" fill="rgb(238,238,238)"/><rect x="352.00" y="197.60" width="1.00" height="12.70" fill="rgb(192,192,192)"/><rect x="353.00" y="197.60" width="1.00" height="12.70" fill="rgb(59,59,59)"/><rect x="354.00" y="197.60" width="1.00" height="12.70" fill="rgb(137,137,137)"/><rect x="355.00" y="197.60" width="1.00" height="12.70" fill="rgb(184,184,184)"/><rect x="356.00" y="197.60" width="1.00" height="12.70" fill="rgb(234,234,234)"/><rect x="357.00" y="197.60" width="1.00" height="12.70" fill="rgb(234,234,234)"/><rect x="358.00" y="197.60" width="1.00" height="12.70" fill="rgb(194,194,194)"/><rect x="359.00" y="197.60" width="1.00" height="12.70" fill="rgb(69,69,69)"/><rect x="360.00" y="197.60" width="1.00" height="12.70" fill="rgb(183,183,183)"/><rect x="361.00" y="197.60" width="1.00" height="12.70" fill="rgb(59,59,59)"/><rect x="362.00" y="197.60" width="1.00" height="12.70" fill="rgb(235,235,235)"/><rect x="363.00" y="197.60" width="1.00" height="12.70" fill="rgb(242,242,242)"/><rect x="364.00" y="197.60" width="1.00" height="12.70" fill="rgb(172,172,172)"/><rect x="365.00" y="197.60" width="1.00" height="12.70" fill="rgb(97,97,97)"/><rect x="366.00" y="197.60" width="1.00" height="12.70" fill="rgb(115,115,115)"/><rect x="367.00" y="197.60" width="1.00" height="12.70" fill="rgb(136,136,136)"/><rect x="368.00" y="197.60" width="1.00" height="12.70" fill="rgb(80,80,80)"/><rect x="369.00" y="197.60" width="1.00" height="12.70" fill="rgb(106,106,106)"/><rect x="370.00" y="197.60" width="1.00" height="12.70" fill="rgb(95,95,95)"/><rect x="371.00" y="197.60" width="1.00" height="12.70" fill="rgb(243,243,243)"/><rect x="372.00" y="197.60" width="1.00" height="12.70" fill="rgb(249,249,249)"/><rect x="373.00" y="197.60" width="1.00" height="12.70" fill="rgb(234,234,234)"/><rect x="374.00" y="197.60" width="1.00" height="12.70" fill="rgb(92,92,92)"/><rect x="375.00" y="197.60" width="1.00" height="12.70" fill="rgb(14,14,14)"/><rect x="376.00" y="197.60" width="1.00" height="12.70" fill="rgb(68,68,68)"/><rect x="377.00" y="197.60" width="1.00" height="12.70" fill="rgb(249,249,249)"/><rect x="378.00" y="197.60" width="1.00" height="12.70" fill="rgb(225,225,225)"/><rect x="379.00" y="197.60" width="1.00" height="12.70" fill="rgb(49,49,49)"/><rect x="380.00" y="197.60" width="1.00" height="12.70" fill="rgb(71,71,71)"/><rect x="381.00" y="197.60" width="1.00" height="12.70" fill="rgb(59,59,59)"/><rect x="382.00" y="197.60" width="1.00" height="12.70" fill="rgb(47,47,47)"/><rect x="383.00" y="197.60" width="1.00" height="12.70" fill="rgb(27,27,27)"/><rect x="384.00" y="197.60" width="1.00" height="12.70" fill="rgb(226,226,226)"/><rect x="385.00" y="197.60" width="1.00" height="12.70" fill="rgb(230,230,230)"/><rect x="386.00" y="197.60" width="1.00" height="12.70" fill="rgb(48,48,48)"/><rect x="387.00" y="197.60" width="1.00" height="12.70" fill="rgb(47,47,47)"/><rect x="388.00" y="197.60" width="1.00" height="12.70" fill="rgb(229,229,229)"/><rect x="389.00" y="197.60" width="0.70" height="12.70" fill="rgb(240,240,240)"/>
<rect x="300.90" y="210.30" width="88.80" height="4.80" fill="url(#st13)"/>
<polyline points="300.50,156.60 300.90,156.65 301.45,156.71 302.10,156.78 302.81,156.86 303.56,156.96 304.30,157.06 304.99,157.17 305.60,157.30 306.13,157.43 306.62,157.58 307.08,157.73 307.53,157.89 307.97,158.07 308.42,158.26 308.89,158.47 309.40,158.70 309.94,158.95 310.51,159.23 311.10,159.53 311.69,159.84 312.30,160.16 312.90,160.48 313.51,160.80 314.10,161.10 314.69,161.39 315.28,161.68 315.86,161.97 316.45,162.25 317.04,162.53 317.63,162.82 318.21,163.11 318.80,163.40 319.39,163.70 319.98,164.00 320.56,164.31 321.15,164.61 321.74,164.92 322.32,165.22 322.91,165.51 323.50,165.80 324.09,166.07 324.68,166.33 325.26,166.57 325.85,166.81 326.44,167.06 327.02,167.32 327.61,167.60 328.20,167.90 328.80,168.24 329.41,168.61 330.03,169.01 330.65,169.41 331.25,169.82 331.84,170.21 332.39,170.57 332.90,170.90 333.35,171.18 333.75,171.42 334.11,171.64 334.45,171.84 334.79,172.04 335.15,172.26 335.55,172.51 336.00,172.80 336.51,173.13 337.06,173.49 337.65,173.88 338.25,174.28 338.87,174.70 339.49,175.13 340.10,175.56 340.70,176.00 341.29,176.45 341.88,176.91 342.46,177.39 343.05,177.87 343.64,178.36 344.22,178.84 344.81,179.33 345.40,179.80 345.99,180.27 346.57,180.75 347.16,181.23 347.75,181.71 348.34,182.18 348.93,182.63 349.51,183.08 350.10,183.50 350.69,183.90 351.28,184.30 351.86,184.67 352.45,185.04 353.04,185.39 353.63,185.74 354.21,186.07 354.80,186.40 355.39,186.72 355.98,187.01 356.56,187.30 357.15,187.58 357.74,187.86 358.32,188.13 358.91,188.41 359.50,188.70 360.10,189.00 360.71,189.30 361.32,189.61 361.93,189.92 362.53,190.23 363.12,190.53 363.67,190.82 364.20,191.10 364.69,191.36 365.14,191.62 365.56,191.87 365.97,192.11 366.37,192.35 366.77,192.57 367.17,192.79 367.60,193.00 368.04,193.21 368.47,193.42 368.90,193.63 369.34,193.83 369.79,194.01 370.25,194.17 370.72,194.30 371.20,194.40 371.70,194.46 372.22,194.48 372.76,194.48 373.30,194.45 373.85,194.40 374.40,194.34 374.95,194.27 375.50,194.20 376.05,194.12 376.61,194.02 377.18,193.90 377.74,193.77 378.30,193.64 378.85,193.50 379.39,193.35 379.90,193.20 380.40,193.06 380.89,192.92 381.37,192.78 381.84,192.64 382.30,192.47 382.72,192.29 383.13,192.06 383.50,191.80 383.83,191.50 384.13,191.19 384.39,190.84 384.64,190.47 384.87,190.06 385.10,189.62 385.34,189.13 385.60,188.60 385.88,188.00 386.17,187.32 386.47,186.59 386.77,185.82 387.06,185.05 387.33,184.29 387.58,183.57 387.80,182.90 387.99,182.33 388.15,181.84 388.28,181.41 388.41,180.97 388.51,180.51 388.61,179.97 388.71,179.31 388.80,178.50 388.89,177.52 388.96,176.39 389.03,175.16 389.09,173.85 389.14,172.49 389.19,171.11 389.25,169.73 389.30,168.40 389.36,167.01 389.42,165.50 389.47,163.93 389.53,162.37 389.58,160.89 389.63,159.56 389.67,158.44 389.70,157.60" fill="none" stroke="#8cbc4c" stroke-width="1.0" stroke-linejoin="round"/>
<rect x="300.50" y="154.50" width="94.00" height="61.00" fill="none" stroke="#333333" stroke-width="1"/>
<line x1="297.60" y1="157.50" x2="300.50" y2="157.50" stroke="#333333" stroke-width="1"/>
<text x="294.10" y="159.80" font-size="6.6" text-anchor="end" textLength="8.70" lengthAdjust="spacingAndGlyphs">0.0</text>
<line x1="297.60" y1="170.50" x2="300.50" y2="170.50" stroke="#333333" stroke-width="1"/>
<text x="294.10" y="173.14" font-size="6.6" text-anchor="end" textLength="11.20" lengthAdjust="spacingAndGlyphs">−0.2</text>
<line x1="297.60" y1="183.50" x2="300.50" y2="183.50" stroke="#333333" stroke-width="1"/>
<text x="294.10" y="186.48" font-size="6.6" text-anchor="end" textLength="11.20" lengthAdjust="spacingAndGlyphs">−0.4</text>
<line x1="297.60" y1="197.50" x2="300.50" y2="197.50" stroke="#333333" stroke-width="1"/>
<text x="294.10" y="199.82" font-size="6.6" text-anchor="end" textLength="11.20" lengthAdjust="spacingAndGlyphs">−0.6</text>
<text x="306.80" y="184.80" font-size="7.0" textLength="35.80" lengthAdjust="spacingAndGlyphs">NES = −2.19</text>
<text x="306.80" y="192.20" font-size="7.0" textLength="41.00" lengthAdjust="spacingAndGlyphs">FDR q &lt; 0.001</text>
<text x="358.40" y="169.40" font-size="7.0" textLength="17.60" lengthAdjust="spacingAndGlyphs">Jurkat</text>
<rect x="418.50" y="154.50" width="94.60" height="61.00" fill="#fff"/>
<line x1="418.50" y1="159.50" x2="509.10" y2="159.50" stroke="#e2e2e2" stroke-width="0.9"/>
<rect x="418.90" y="197.40" width="0.10" height="13.20" fill="rgb(247,247,247)"/><rect x="419.00" y="197.40" width="1.00" height="13.20" fill="rgb(184,184,184)"/><rect x="420.00" y="197.40" width="1.00" height="13.20" fill="rgb(119,119,119)"/><rect x="421.00" y="197.40" width="1.00" height="13.20" fill="rgb(124,124,124)"/><rect x="422.00" y="197.40" width="1.00" height="13.20" fill="rgb(165,165,165)"/><rect x="423.00" y="197.40" width="1.00" height="13.20" fill="rgb(246,246,246)"/><rect x="424.00" y="197.40" width="1.00" height="13.20" fill="rgb(150,150,150)"/><rect x="425.00" y="197.40" width="1.00" height="13.20" fill="rgb(80,80,80)"/><rect x="426.00" y="197.40" width="1.00" height="13.20" fill="rgb(235,235,235)"/><rect x="427.00" y="197.40" width="1.00" height="13.20" fill="rgb(233,233,233)"/><rect x="428.00" y="197.40" width="1.00" height="13.20" fill="rgb(182,182,182)"/><rect x="429.00" y="197.40" width="1.00" height="13.20" fill="rgb(242,242,242)"/><rect x="430.00" y="197.40" width="1.00" height="13.20" fill="rgb(120,120,120)"/><rect x="431.00" y="197.40" width="1.00" height="13.20" fill="rgb(245,245,245)"/><rect x="432.00" y="197.40" width="1.00" height="13.20" fill="rgb(244,244,244)"/><rect x="433.00" y="197.40" width="1.00" height="13.20" fill="rgb(227,227,227)"/><rect x="434.00" y="197.40" width="1.00" height="13.20" fill="rgb(237,237,237)"/><rect x="435.00" y="197.40" width="1.00" height="13.20" fill="rgb(162,162,162)"/><rect x="436.00" y="197.40" width="1.00" height="13.20" fill="rgb(74,74,74)"/><rect x="437.00" y="197.40" width="1.00" height="13.20" fill="rgb(78,78,78)"/><rect x="438.00" y="197.40" width="1.00" height="13.20" fill="rgb(143,143,143)"/><rect x="439.00" y="197.40" width="1.00" height="13.20" fill="rgb(228,228,228)"/><rect x="440.00" y="197.40" width="1.00" height="13.20" fill="rgb(174,174,174)"/><rect x="441.00" y="197.40" width="1.00" height="13.20" fill="rgb(99,99,99)"/><rect x="442.00" y="197.40" width="1.00" height="13.20" fill="rgb(244,244,244)"/><rect x="443.00" y="197.40" width="1.00" height="13.20" fill="rgb(250,250,250)"/><rect x="444.00" y="197.40" width="1.00" height="13.20" fill="rgb(233,233,233)"/><rect x="445.00" y="197.40" width="1.00" height="13.20" fill="rgb(227,227,227)"/><rect x="446.00" y="197.40" width="1.00" height="13.20" fill="rgb(228,228,228)"/><rect x="447.00" y="197.40" width="1.00" height="13.20" fill="rgb(248,248,248)"/><rect x="448.00" y="197.40" width="1.00" height="13.20" fill="rgb(184,184,184)"/><rect x="449.00" y="197.40" width="1.00" height="13.20" fill="rgb(158,158,158)"/><rect x="450.00" y="197.40" width="1.00" height="13.20" fill="rgb(93,93,93)"/><rect x="451.00" y="197.40" width="1.00" height="13.20" fill="rgb(166,166,166)"/><rect x="452.00" y="197.40" width="1.00" height="13.20" fill="rgb(239,239,239)"/><rect x="453.00" y="197.40" width="1.00" height="13.20" fill="rgb(74,74,74)"/><rect x="454.00" y="197.40" width="1.00" height="13.20" fill="rgb(237,237,237)"/><rect x="455.00" y="197.40" width="1.00" height="13.20" fill="rgb(244,244,244)"/><rect x="456.00" y="197.40" width="1.00" height="13.20" fill="rgb(67,67,67)"/><rect x="457.00" y="197.40" width="1.00" height="13.20" fill="rgb(175,175,175)"/><rect x="458.00" y="197.40" width="1.00" height="13.20" fill="rgb(196,196,196)"/><rect x="459.00" y="197.40" width="1.00" height="13.20" fill="rgb(153,153,153)"/><rect x="460.00" y="197.40" width="1.00" height="13.20" fill="rgb(158,158,158)"/><rect x="461.00" y="197.40" width="1.00" height="13.20" fill="rgb(247,247,247)"/><rect x="462.00" y="197.40" width="1.00" height="13.20" fill="rgb(170,170,170)"/><rect x="463.00" y="197.40" width="1.00" height="13.20" fill="rgb(234,234,234)"/><rect x="464.00" y="197.40" width="1.00" height="13.20" fill="rgb(60,60,60)"/><rect x="465.00" y="197.40" width="1.00" height="13.20" fill="rgb(170,170,170)"/><rect x="466.00" y="197.40" width="1.00" height="13.20" fill="rgb(74,74,74)"/><rect x="467.00" y="197.40" width="1.00" height="13.20" fill="rgb(58,58,58)"/><rect x="468.00" y="197.40" width="1.00" height="13.20" fill="rgb(225,225,225)"/><rect x="469.00" y="197.40" width="1.00" height="13.20" fill="rgb(200,200,200)"/><rect x="470.00" y="197.40" width="1.00" height="13.20" fill="rgb(183,183,183)"/><rect x="471.00" y="197.40" width="1.00" height="13.20" fill="rgb(141,141,141)"/><rect x="472.00" y="197.40" width="1.00" height="13.20" fill="rgb(79,79,79)"/><rect x="473.00" y="197.40" width="1.00" height="13.20" fill="rgb(229,229,229)"/><rect x="474.00" y="197.40" width="1.00" height="13.20" fill="rgb(50,50,50)"/><rect x="475.00" y="197.40" width="1.00" height="13.20" fill="rgb(241,241,241)"/><rect x="476.00" y="197.40" width="1.00" height="13.20" fill="rgb(232,232,232)"/><rect x="477.00" y="197.40" width="1.00" height="13.20" fill="rgb(246,246,246)"/><rect x="478.00" y="197.40" width="1.00" height="13.20" fill="rgb(124,124,124)"/><rect x="479.00" y="197.40" width="1.00" height="13.20" fill="rgb(144,144,144)"/><rect x="480.00" y="197.40" width="1.00" height="13.20" fill="rgb(244,244,244)"/><rect x="481.00" y="197.40" width="1.00" height="13.20" fill="rgb(90,90,90)"/><rect x="482.00" y="197.40" width="1.00" height="13.20" fill="rgb(100,100,100)"/><rect x="483.00" y="197.40" width="1.00" height="13.20" fill="rgb(138,138,138)"/><rect x="484.00" y="197.40" width="1.00" height="13.20" fill="rgb(237,237,237)"/><rect x="485.00" y="197.40" width="1.00" height="13.20" fill="rgb(120,120,120)"/><rect x="486.00" y="197.40" width="1.00" height="13.20" fill="rgb(48,48,48)"/><rect x="487.00" y="197.40" width="1.00" height="13.20" fill="rgb(238,238,238)"/><rect x="488.00" y="197.40" width="1.00" height="13.20" fill="rgb(126,126,126)"/><rect x="489.00" y="197.40" width="1.00" height="13.20" fill="rgb(250,250,250)"/><rect x="490.00" y="197.40" width="1.00" height="13.20" fill="rgb(231,231,231)"/><rect x="491.00" y="197.40" width="1.00" height="13.20" fill="rgb(229,229,229)"/><rect x="492.00" y="197.40" width="1.00" height="13.20" fill="rgb(240,240,240)"/><rect x="493.00" y="197.40" width="1.00" height="13.20" fill="rgb(179,179,179)"/><rect x="494.00" y="197.40" width="1.00" height="13.20" fill="rgb(16,16,16)"/><rect x="495.00" y="197.40" width="1.00" height="13.20" fill="rgb(42,42,42)"/><rect x="496.00" y="197.40" width="1.00" height="13.20" fill="rgb(79,79,79)"/><rect x="497.00" y="197.40" width="1.00" height="13.20" fill="rgb(26,26,26)"/><rect x="498.00" y="197.40" width="1.00" height="13.20" fill="rgb(21,21,21)"/><rect x="499.00" y="197.40" width="1.00" height="13.20" fill="rgb(248,248,248)"/><rect x="500.00" y="197.40" width="1.00" height="13.20" fill="rgb(12,12,12)"/><rect x="501.00" y="197.40" width="1.00" height="13.20" fill="rgb(38,38,38)"/><rect x="502.00" y="197.40" width="1.00" height="13.20" fill="rgb(120,120,120)"/><rect x="503.00" y="197.40" width="1.00" height="13.20" fill="rgb(55,55,55)"/><rect x="504.00" y="197.40" width="1.00" height="13.20" fill="rgb(86,86,86)"/><rect x="505.00" y="197.40" width="1.00" height="13.20" fill="rgb(81,81,81)"/><rect x="506.00" y="197.40" width="1.00" height="13.20" fill="rgb(83,83,83)"/><rect x="507.00" y="197.40" width="1.00" height="13.20" fill="rgb(44,44,44)"/><rect x="508.00" y="197.40" width="1.00" height="13.20" fill="rgb(51,51,51)"/><rect x="509.00" y="197.40" width="0.10" height="13.20" fill="rgb(120,120,120)"/>
<rect x="418.90" y="210.60" width="90.20" height="4.50" fill="url(#st14)"/>
<polyline points="418.80,158.00 418.84,157.94 418.88,157.86 418.92,157.77 418.98,157.66 419.05,157.55 419.14,157.43 419.26,157.32 419.40,157.20 419.57,157.08 419.77,156.93 420.00,156.78 420.24,156.63 420.50,156.49 420.77,156.36 421.03,156.26 421.30,156.20 421.56,156.17 421.81,156.17 422.07,156.19 422.33,156.22 422.61,156.28 422.91,156.35 423.24,156.42 423.60,156.50 424.00,156.59 424.42,156.69 424.88,156.81 425.35,156.94 425.84,157.07 426.35,157.21 426.87,157.36 427.40,157.50 427.94,157.64 428.51,157.79 429.10,157.93 429.69,158.08 430.30,158.24 430.90,158.41 431.51,158.60 432.10,158.80 432.69,159.02 433.28,159.26 433.86,159.51 434.45,159.77 435.04,160.04 435.63,160.32 436.21,160.61 436.80,160.90 437.39,161.20 437.98,161.51 438.56,161.84 439.15,162.17 439.74,162.50 440.32,162.84 440.91,163.17 441.50,163.50 442.09,163.82 442.68,164.15 443.26,164.47 443.85,164.79 444.44,165.11 445.02,165.44 445.61,165.77 446.20,166.10 446.79,166.44 447.38,166.77 447.96,167.11 448.55,167.46 449.14,167.80 449.72,168.16 450.31,168.52 450.90,168.90 451.50,169.29 452.11,169.70 452.73,170.12 453.35,170.54 453.95,170.97 454.54,171.39 455.09,171.80 455.60,172.20 456.05,172.58 456.45,172.93 456.81,173.28 457.15,173.62 457.49,173.97 457.85,174.33 458.25,174.70 458.70,175.10 459.21,175.52 459.76,175.97 460.35,176.42 460.95,176.89 461.57,177.37 462.19,177.85 462.80,178.33 463.40,178.80 463.99,179.27 464.57,179.74 465.16,180.22 465.75,180.69 466.34,181.17 466.93,181.65 467.51,182.12 468.10,182.60 468.69,183.08 469.28,183.57 469.86,184.07 470.45,184.56 471.04,185.05 471.63,185.52 472.21,185.97 472.80,186.40 473.39,186.80 473.98,187.18 474.56,187.55 475.15,187.89 475.74,188.23 476.32,188.56 476.91,188.88 477.50,189.20 478.09,189.51 478.68,189.82 479.26,190.12 479.85,190.41 480.44,190.69 481.02,190.96 481.61,191.24 482.20,191.50 482.80,191.76 483.41,192.03 484.02,192.29 484.63,192.54 485.23,192.79 485.82,193.01 486.37,193.22 486.90,193.40 487.38,193.56 487.82,193.69 488.23,193.81 488.62,193.91 489.01,193.99 489.41,194.07 489.84,194.14 490.30,194.20 490.81,194.26 491.35,194.31 491.91,194.36 492.49,194.39 493.06,194.42 493.63,194.43 494.18,194.42 494.70,194.40 495.20,194.36 495.69,194.32 496.17,194.26 496.64,194.18 497.10,194.09 497.52,193.98 497.93,193.85 498.30,193.70 498.63,193.53 498.93,193.34 499.19,193.13 499.44,192.91 499.67,192.66 499.90,192.39 500.14,192.11 500.40,191.80 500.67,191.47 500.94,191.12 501.22,190.74 501.49,190.35 501.77,189.94 502.05,189.51 502.32,189.06 502.60,188.60 502.88,188.12 503.17,187.60 503.46,187.07 503.75,186.52 504.03,185.96 504.31,185.40 504.56,184.85 504.80,184.30 505.01,183.77 505.21,183.26 505.39,182.75 505.56,182.24 505.72,181.72 505.88,181.18 506.04,180.61 506.20,180.00 506.36,179.36 506.52,178.69 506.67,178.00 506.82,177.28 506.97,176.54 507.12,175.78 507.26,175.00 507.40,174.20 507.54,173.37 507.67,172.50 507.80,171.60 507.93,170.69 508.06,169.76 508.18,168.83 508.29,167.91 508.40,167.00 508.51,166.05 508.61,165.03 508.72,163.98 508.81,162.95 508.90,161.97 508.98,161.09 509.05,160.36 509.10,159.80" fill="none" stroke="#8cbc4c" stroke-width="1.0" stroke-linejoin="round"/>
<rect x="418.50" y="154.50" width="94.60" height="61.00" fill="none" stroke="#333333" stroke-width="1"/>
<line x1="415.60" y1="159.50" x2="418.50" y2="159.50" stroke="#333333" stroke-width="1"/>
<text x="412.10" y="162.30" font-size="6.6" text-anchor="end" textLength="8.70" lengthAdjust="spacingAndGlyphs">0.0</text>
<line x1="415.60" y1="166.50" x2="418.50" y2="166.50" stroke="#333333" stroke-width="1"/>
<text x="412.10" y="169.18" font-size="6.6" text-anchor="end" textLength="11.20" lengthAdjust="spacingAndGlyphs">−0.1</text>
<line x1="415.60" y1="173.50" x2="418.50" y2="173.50" stroke="#333333" stroke-width="1"/>
<text x="412.10" y="176.06" font-size="6.6" text-anchor="end" textLength="11.20" lengthAdjust="spacingAndGlyphs">−0.2</text>
<line x1="415.60" y1="180.50" x2="418.50" y2="180.50" stroke="#333333" stroke-width="1"/>
<text x="412.10" y="182.94" font-size="6.6" text-anchor="end" textLength="11.20" lengthAdjust="spacingAndGlyphs">−0.3</text>
<line x1="415.60" y1="187.50" x2="418.50" y2="187.50" stroke="#333333" stroke-width="1"/>
<text x="412.10" y="189.82" font-size="6.6" text-anchor="end" textLength="11.20" lengthAdjust="spacingAndGlyphs">−0.4</text>
<line x1="415.60" y1="194.50" x2="418.50" y2="194.50" stroke="#333333" stroke-width="1"/>
<text x="412.10" y="196.70" font-size="6.6" text-anchor="end" textLength="11.20" lengthAdjust="spacingAndGlyphs">−0.5</text>
<text x="424.80" y="185.20" font-size="7.0" textLength="35.80" lengthAdjust="spacingAndGlyphs">NES = −1.91</text>
<text x="424.80" y="192.60" font-size="7.0" textLength="41.00" lengthAdjust="spacingAndGlyphs">FDR q &lt; 0.001</text>
<text x="467.80" y="169.40" font-size="7.0" textLength="25.50" lengthAdjust="spacingAndGlyphs">KOPT-K1</text>
<rect x="300.50" y="222.50" width="94.00" height="61.00" fill="#fff"/>
<line x1="300.50" y1="225.50" x2="389.50" y2="225.50" stroke="#e2e2e2" stroke-width="0.9"/>
<rect x="300.90" y="265.60" width="0.10" height="13.20" fill="rgb(52,52,52)"/><rect x="301.00" y="265.60" width="1.00" height="13.20" fill="rgb(59,59,59)"/><rect x="302.00" y="265.60" width="1.00" height="13.20" fill="rgb(232,232,232)"/><rect x="303.00" y="265.60" width="1.00" height="13.20" fill="rgb(250,250,250)"/><rect x="304.00" y="265.60" width="1.00" height="13.20" fill="rgb(144,144,144)"/><rect x="305.00" y="265.60" width="1.00" height="13.20" fill="rgb(235,235,235)"/><rect x="306.00" y="265.60" width="1.00" height="13.20" fill="rgb(141,141,141)"/><rect x="307.00" y="265.60" width="1.00" height="13.20" fill="rgb(233,233,233)"/><rect x="308.00" y="265.60" width="1.00" height="13.20" fill="rgb(231,231,231)"/><rect x="309.00" y="265.60" width="1.00" height="13.20" fill="rgb(130,130,130)"/><rect x="310.00" y="265.60" width="1.00" height="13.20" fill="rgb(248,248,248)"/><rect x="311.00" y="265.60" width="1.00" height="13.20" fill="rgb(109,109,109)"/><rect x="312.00" y="265.60" width="1.00" height="13.20" fill="rgb(157,157,157)"/><rect x="313.00" y="265.60" width="1.00" height="13.20" fill="rgb(168,168,168)"/><rect x="314.00" y="265.60" width="1.00" height="13.20" fill="rgb(142,142,142)"/><rect x="315.00" y="265.60" width="1.00" height="13.20" fill="rgb(130,130,130)"/><rect x="316.00" y="265.60" width="1.00" height="13.20" fill="rgb(165,165,165)"/><rect x="317.00" y="265.60" width="1.00" height="13.20" fill="rgb(66,66,66)"/><rect x="318.00" y="265.60" width="1.00" height="13.20" fill="rgb(54,54,54)"/><rect x="319.00" y="265.60" width="1.00" height="13.20" fill="rgb(242,242,242)"/><rect x="320.00" y="265.60" width="1.00" height="13.20" fill="rgb(250,250,250)"/><rect x="321.00" y="265.60" width="1.00" height="13.20" fill="rgb(54,54,54)"/><rect x="322.00" y="265.60" width="1.00" height="13.20" fill="rgb(240,240,240)"/><rect x="323.00" y="265.60" width="1.00" height="13.20" fill="rgb(228,228,228)"/><rect x="324.00" y="265.60" width="1.00" height="13.20" fill="rgb(151,151,151)"/><rect x="325.00" y="265.60" width="1.00" height="13.20" fill="rgb(239,239,239)"/><rect x="326.00" y="265.60" width="1.00" height="13.20" fill="rgb(192,192,192)"/><rect x="327.00" y="265.60" width="1.00" height="13.20" fill="rgb(241,241,241)"/><rect x="328.00" y="265.60" width="1.00" height="13.20" fill="rgb(242,242,242)"/><rect x="329.00" y="265.60" width="1.00" height="13.20" fill="rgb(140,140,140)"/><rect x="330.00" y="265.60" width="1.00" height="13.20" fill="rgb(234,234,234)"/><rect x="331.00" y="265.60" width="1.00" height="13.20" fill="rgb(245,245,245)"/><rect x="332.00" y="265.60" width="1.00" height="13.20" fill="rgb(240,240,240)"/><rect x="333.00" y="265.60" width="1.00" height="13.20" fill="rgb(239,239,239)"/><rect x="334.00" y="265.60" width="1.00" height="13.20" fill="rgb(119,119,119)"/><rect x="335.00" y="265.60" width="1.00" height="13.20" fill="rgb(79,79,79)"/><rect x="336.00" y="265.60" width="1.00" height="13.20" fill="rgb(149,149,149)"/><rect x="337.00" y="265.60" width="1.00" height="13.20" fill="rgb(116,116,116)"/><rect x="338.00" y="265.60" width="1.00" height="13.20" fill="rgb(73,73,73)"/><rect x="339.00" y="265.60" width="1.00" height="13.20" fill="rgb(226,226,226)"/><rect x="340.00" y="265.60" width="1.00" height="13.20" fill="rgb(65,65,65)"/><rect x="341.00" y="265.60" width="1.00" height="13.20" fill="rgb(90,90,90)"/><rect x="342.00" y="265.60" width="1.00" height="13.20" fill="rgb(194,194,194)"/><rect x="343.00" y="265.60" width="1.00" height="13.20" fill="rgb(177,177,177)"/><rect x="344.00" y="265.60" width="1.00" height="13.20" fill="rgb(226,226,226)"/><rect x="345.00" y="265.60" width="1.00" height="13.20" fill="rgb(70,70,70)"/><rect x="346.00" y="265.60" width="1.00" height="13.20" fill="rgb(168,168,168)"/><rect x="347.00" y="265.60" width="1.00" height="13.20" fill="rgb(249,249,249)"/><rect x="348.00" y="265.60" width="1.00" height="13.20" fill="rgb(115,115,115)"/><rect x="349.00" y="265.60" width="1.00" height="13.20" fill="rgb(52,52,52)"/><rect x="350.00" y="265.60" width="1.00" height="13.20" fill="rgb(249,249,249)"/><rect x="351.00" y="265.60" width="1.00" height="13.20" fill="rgb(147,147,147)"/><rect x="352.00" y="265.60" width="1.00" height="13.20" fill="rgb(64,64,64)"/><rect x="353.00" y="265.60" width="1.00" height="13.20" fill="rgb(127,127,127)"/><rect x="354.00" y="265.60" width="1.00" height="13.20" fill="rgb(129,129,129)"/><rect x="355.00" y="265.60" width="1.00" height="13.20" fill="rgb(57,57,57)"/><rect x="356.00" y="265.60" width="1.00" height="13.20" fill="rgb(148,148,148)"/><rect x="357.00" y="265.60" width="1.00" height="13.20" fill="rgb(246,246,246)"/><rect x="358.00" y="265.60" width="1.00" height="13.20" fill="rgb(149,149,149)"/><rect x="359.00" y="265.60" width="1.00" height="13.20" fill="rgb(50,50,50)"/><rect x="360.00" y="265.60" width="1.00" height="13.20" fill="rgb(232,232,232)"/><rect x="361.00" y="265.60" width="1.00" height="13.20" fill="rgb(181,181,181)"/><rect x="362.00" y="265.60" width="1.00" height="13.20" fill="rgb(232,232,232)"/><rect x="363.00" y="265.60" width="1.00" height="13.20" fill="rgb(130,130,130)"/><rect x="364.00" y="265.60" width="1.00" height="13.20" fill="rgb(40,40,40)"/><rect x="365.00" y="265.60" width="1.00" height="13.20" fill="rgb(97,97,97)"/><rect x="366.00" y="265.60" width="1.00" height="13.20" fill="rgb(55,55,55)"/><rect x="367.00" y="265.60" width="1.00" height="13.20" fill="rgb(169,169,169)"/><rect x="368.00" y="265.60" width="1.00" height="13.20" fill="rgb(67,67,67)"/><rect x="369.00" y="265.60" width="1.00" height="13.20" fill="rgb(142,142,142)"/><rect x="370.00" y="265.60" width="1.00" height="13.20" fill="rgb(72,72,72)"/><rect x="371.00" y="265.60" width="1.00" height="13.20" fill="rgb(120,120,120)"/><rect x="372.00" y="265.60" width="1.00" height="13.20" fill="rgb(180,180,180)"/><rect x="373.00" y="265.60" width="1.00" height="13.20" fill="rgb(71,71,71)"/><rect x="374.00" y="265.60" width="1.00" height="13.20" fill="rgb(110,110,110)"/><rect x="375.00" y="265.60" width="1.00" height="13.20" fill="rgb(22,22,22)"/><rect x="376.00" y="265.60" width="1.00" height="13.20" fill="rgb(29,29,29)"/><rect x="377.00" y="265.60" width="1.00" height="13.20" fill="rgb(69,69,69)"/><rect x="378.00" y="265.60" width="1.00" height="13.20" fill="rgb(93,93,93)"/><rect x="379.00" y="265.60" width="1.00" height="13.20" fill="rgb(79,79,79)"/><rect x="380.00" y="265.60" width="1.00" height="13.20" fill="rgb(106,106,106)"/><rect x="381.00" y="265.60" width="1.00" height="13.20" fill="rgb(61,61,61)"/><rect x="382.00" y="265.60" width="1.00" height="13.20" fill="rgb(81,81,81)"/><rect x="383.00" y="265.60" width="1.00" height="13.20" fill="rgb(90,90,90)"/><rect x="384.00" y="265.60" width="1.00" height="13.20" fill="rgb(241,241,241)"/><rect x="385.00" y="265.60" width="1.00" height="13.20" fill="rgb(85,85,85)"/><rect x="386.00" y="265.60" width="1.00" height="13.20" fill="rgb(100,100,100)"/><rect x="387.00" y="265.60" width="1.00" height="13.20" fill="rgb(53,53,53)"/><rect x="388.00" y="265.60" width="1.00" height="13.20" fill="rgb(87,87,87)"/><rect x="389.00" y="265.60" width="0.50" height="13.20" fill="rgb(94,94,94)"/>
<rect x="300.90" y="278.80" width="88.60" height="4.30" fill="url(#st15)"/>
<polyline points="300.50,224.60 300.55,224.61 300.61,224.62 300.67,224.63 300.74,224.64 300.85,224.66 300.99,224.69 301.17,224.74 301.40,224.80 301.70,224.89 302.06,224.99 302.46,225.11 302.90,225.24 303.36,225.38 303.82,225.52 304.27,225.66 304.70,225.80 305.11,225.94 305.52,226.09 305.94,226.24 306.35,226.39 306.76,226.54 307.18,226.68 307.59,226.80 308.00,226.90 308.42,226.97 308.84,227.02 309.26,227.04 309.68,227.06 310.10,227.08 310.51,227.10 310.91,227.14 311.30,227.20 311.66,227.27 311.99,227.34 312.30,227.42 312.61,227.51 312.93,227.61 313.28,227.74 313.66,227.90 314.10,228.10 314.60,228.34 315.14,228.63 315.72,228.95 316.33,229.29 316.95,229.65 317.58,230.01 318.20,230.36 318.80,230.70 319.39,231.02 319.98,231.35 320.56,231.67 321.15,231.99 321.74,232.31 322.32,232.64 322.91,232.97 323.50,233.30 324.09,233.64 324.68,233.99 325.26,234.34 325.85,234.69 326.44,235.05 327.02,235.40 327.61,235.75 328.20,236.10 328.80,236.45 329.41,236.81 330.03,237.17 330.65,237.53 331.25,237.87 331.84,238.20 332.39,238.52 332.90,238.80 333.35,239.04 333.75,239.24 334.11,239.41 334.45,239.58 334.79,239.74 335.15,239.92 335.55,240.14 336.00,240.40 336.51,240.71 337.06,241.06 337.65,241.44 338.25,241.84 338.87,242.26 339.49,242.68 340.10,243.09 340.70,243.50 341.29,243.90 341.88,244.32 342.46,244.73 343.05,245.15 343.64,245.57 344.22,245.98 344.81,246.40 345.40,246.80 345.99,247.20 346.57,247.59 347.16,247.98 347.75,248.37 348.34,248.75 348.93,249.14 349.51,249.52 350.10,249.90 350.69,250.28 351.28,250.66 351.86,251.04 352.45,251.41 353.04,251.79 353.63,252.16 354.21,252.53 354.80,252.90 355.39,253.27 355.98,253.65 356.56,254.02 357.15,254.39 357.74,254.76 358.32,255.12 358.91,255.47 359.50,255.80 360.09,256.12 360.68,256.42 361.26,256.71 361.85,256.99 362.44,257.27 363.02,257.55 363.61,257.82 364.20,258.10 364.79,258.39 365.38,258.68 365.96,258.97 366.55,259.26 367.14,259.55 367.72,259.82 368.31,260.07 368.90,260.30 369.50,260.50 370.11,260.69 370.73,260.85 371.34,261.00 371.95,261.14 372.53,261.29 373.08,261.44 373.60,261.60 374.08,261.79 374.53,262.01 374.95,262.24 375.36,262.46 375.74,262.67 376.11,262.84 376.46,262.95 376.80,263.00 377.12,262.98 377.40,262.92 377.67,262.81 377.92,262.66 378.17,262.47 378.42,262.25 378.70,261.99 379.00,261.70 379.33,261.37 379.69,260.98 380.07,260.55 380.46,260.09 380.84,259.61 381.21,259.11 381.57,258.60 381.90,258.10 382.20,257.60 382.48,257.10 382.74,256.60 382.99,256.08 383.24,255.53 383.49,254.96 383.74,254.35 384.00,253.70 384.28,253.01 384.56,252.28 384.85,251.52 385.14,250.72 385.43,249.91 385.70,249.06 385.96,248.19 386.20,247.30 386.42,246.37 386.61,245.39 386.80,244.38 386.97,243.35 387.13,242.31 387.29,241.28 387.44,240.27 387.60,239.30 387.75,238.36 387.90,237.44 388.05,236.54 388.19,235.65 388.32,234.76 388.45,233.88 388.58,232.99 388.70,232.10 388.82,231.15 388.94,230.13 389.06,229.08 389.17,228.05 389.27,227.07 389.36,226.19 389.44,225.46 389.50,224.90" fill="none" stroke="#8cbc4c" stroke-width="1.0" stroke-linejoin="round"/>
<rect x="300.50" y="222.50" width="94.00" height="61.00" fill="none" stroke="#333333" stroke-width="1"/>
<line x1="297.60" y1="225.50" x2="300.50" y2="225.50" stroke="#333333" stroke-width="1"/>
<text x="294.10" y="228.10" font-size="6.6" text-anchor="end" textLength="8.70" lengthAdjust="spacingAndGlyphs">0.0</text>
<line x1="297.60" y1="237.50" x2="300.50" y2="237.50" stroke="#333333" stroke-width="1"/>
<text x="294.10" y="240.64" font-size="6.6" text-anchor="end" textLength="11.20" lengthAdjust="spacingAndGlyphs">−0.2</text>
<line x1="297.60" y1="250.50" x2="300.50" y2="250.50" stroke="#333333" stroke-width="1"/>
<text x="294.10" y="253.18" font-size="6.6" text-anchor="end" textLength="11.20" lengthAdjust="spacingAndGlyphs">−0.4</text>
<line x1="297.60" y1="263.50" x2="300.50" y2="263.50" stroke="#333333" stroke-width="1"/>
<text x="294.10" y="265.72" font-size="6.6" text-anchor="end" textLength="11.20" lengthAdjust="spacingAndGlyphs">−0.6</text>
<text x="306.80" y="253.60" font-size="7.0" textLength="35.80" lengthAdjust="spacingAndGlyphs">NES = −2.14</text>
<text x="306.80" y="261.00" font-size="7.0" textLength="41.00" lengthAdjust="spacingAndGlyphs">FDR q &lt; 0.001</text>
<text x="350.80" y="236.40" font-size="7.0" textLength="32.80" lengthAdjust="spacingAndGlyphs">CCRF-CEM</text>
<rect x="418.50" y="222.50" width="94.60" height="61.00" fill="#fff"/>
<line x1="418.50" y1="237.50" x2="509.10" y2="237.50" stroke="#e2e2e2" stroke-width="0.9"/>
<rect x="418.90" y="265.40" width="0.10" height="13.60" fill="rgb(173,173,173)"/><rect x="419.00" y="265.40" width="1.00" height="13.60" fill="rgb(232,232,232)"/><rect x="420.00" y="265.40" width="1.00" height="13.60" fill="rgb(154,154,154)"/><rect x="421.00" y="265.40" width="1.00" height="13.60" fill="rgb(116,116,116)"/><rect x="422.00" y="265.40" width="1.00" height="13.60" fill="rgb(232,232,232)"/><rect x="423.00" y="265.40" width="1.00" height="13.60" fill="rgb(234,234,234)"/><rect x="424.00" y="265.40" width="1.00" height="13.60" fill="rgb(86,86,86)"/><rect x="425.00" y="265.40" width="1.00" height="13.60" fill="rgb(129,129,129)"/><rect x="426.00" y="265.40" width="1.00" height="13.60" fill="rgb(232,232,232)"/><rect x="427.00" y="265.40" width="1.00" height="13.60" fill="rgb(114,114,114)"/><rect x="428.00" y="265.40" width="1.00" height="13.60" fill="rgb(229,229,229)"/><rect x="429.00" y="265.40" width="1.00" height="13.60" fill="rgb(57,57,57)"/><rect x="430.00" y="265.40" width="1.00" height="13.60" fill="rgb(125,125,125)"/><rect x="431.00" y="265.40" width="1.00" height="13.60" fill="rgb(129,129,129)"/><rect x="432.00" y="265.40" width="1.00" height="13.60" fill="rgb(157,157,157)"/><rect x="433.00" y="265.40" width="1.00" height="13.60" fill="rgb(139,139,139)"/><rect x="434.00" y="265.40" width="1.00" height="13.60" fill="rgb(182,182,182)"/><rect x="435.00" y="265.40" width="1.00" height="13.60" fill="rgb(194,194,194)"/><rect x="436.00" y="265.40" width="1.00" height="13.60" fill="rgb(226,226,226)"/><rect x="437.00" y="265.40" width="1.00" height="13.60" fill="rgb(227,227,227)"/><rect x="438.00" y="265.40" width="1.00" height="13.60" fill="rgb(51,51,51)"/><rect x="439.00" y="265.40" width="1.00" height="13.60" fill="rgb(110,110,110)"/><rect x="440.00" y="265.40" width="1.00" height="13.60" fill="rgb(129,129,129)"/><rect x="441.00" y="265.40" width="1.00" height="13.60" fill="rgb(239,239,239)"/><rect x="442.00" y="265.40" width="1.00" height="13.60" fill="rgb(92,92,92)"/><rect x="443.00" y="265.40" width="1.00" height="13.60" fill="rgb(53,53,53)"/><rect x="444.00" y="265.40" width="1.00" height="13.60" fill="rgb(175,175,175)"/><rect x="445.00" y="265.40" width="1.00" height="13.60" fill="rgb(240,240,240)"/><rect x="446.00" y="265.40" width="1.00" height="13.60" fill="rgb(81,81,81)"/><rect x="447.00" y="265.40" width="1.00" height="13.60" fill="rgb(70,70,70)"/><rect x="448.00" y="265.40" width="1.00" height="13.60" fill="rgb(55,55,55)"/><rect x="449.00" y="265.40" width="1.00" height="13.60" fill="rgb(109,109,109)"/><rect x="450.00" y="265.40" width="1.00" height="13.60" fill="rgb(144,144,144)"/><rect x="451.00" y="265.40" width="1.00" height="13.60" fill="rgb(226,226,226)"/><rect x="452.00" y="265.40" width="1.00" height="13.60" fill="rgb(152,152,152)"/><rect x="453.00" y="265.40" width="1.00" height="13.60" fill="rgb(172,172,172)"/><rect x="454.00" y="265.40" width="1.00" height="13.60" fill="rgb(68,68,68)"/><rect x="455.00" y="265.40" width="1.00" height="13.60" fill="rgb(228,228,228)"/><rect x="456.00" y="265.40" width="1.00" height="13.60" fill="rgb(188,188,188)"/><rect x="457.00" y="265.40" width="1.00" height="13.60" fill="rgb(225,225,225)"/><rect x="458.00" y="265.40" width="1.00" height="13.60" fill="rgb(61,61,61)"/><rect x="459.00" y="265.40" width="1.00" height="13.60" fill="rgb(79,79,79)"/><rect x="460.00" y="265.40" width="1.00" height="13.60" fill="rgb(62,62,62)"/><rect x="461.00" y="265.40" width="1.00" height="13.60" fill="rgb(150,150,150)"/><rect x="462.00" y="265.40" width="1.00" height="13.60" fill="rgb(245,245,245)"/><rect x="463.00" y="265.40" width="1.00" height="13.60" fill="rgb(111,111,111)"/><rect x="464.00" y="265.40" width="1.00" height="13.60" fill="rgb(225,225,225)"/><rect x="465.00" y="265.40" width="1.00" height="13.60" fill="rgb(232,232,232)"/><rect x="466.00" y="265.40" width="1.00" height="13.60" fill="rgb(76,76,76)"/><rect x="467.00" y="265.40" width="1.00" height="13.60" fill="rgb(118,118,118)"/><rect x="468.00" y="265.40" width="1.00" height="13.60" fill="rgb(59,59,59)"/><rect x="469.00" y="265.40" width="1.00" height="13.60" fill="rgb(169,169,169)"/><rect x="470.00" y="265.40" width="1.00" height="13.60" fill="rgb(59,59,59)"/><rect x="471.00" y="265.40" width="1.00" height="13.60" fill="rgb(247,247,247)"/><rect x="472.00" y="265.40" width="1.00" height="13.60" fill="rgb(246,246,246)"/><rect x="473.00" y="265.40" width="1.00" height="13.60" fill="rgb(241,241,241)"/><rect x="474.00" y="265.40" width="1.00" height="13.60" fill="rgb(105,105,105)"/><rect x="475.00" y="265.40" width="1.00" height="13.60" fill="rgb(245,245,245)"/><rect x="476.00" y="265.40" width="1.00" height="13.60" fill="rgb(228,228,228)"/><rect x="477.00" y="265.40" width="1.00" height="13.60" fill="rgb(86,86,86)"/><rect x="478.00" y="265.40" width="1.00" height="13.60" fill="rgb(110,110,110)"/><rect x="479.00" y="265.40" width="1.00" height="13.60" fill="rgb(229,229,229)"/><rect x="480.00" y="265.40" width="1.00" height="13.60" fill="rgb(160,160,160)"/><rect x="481.00" y="265.40" width="1.00" height="13.60" fill="rgb(151,151,151)"/><rect x="482.00" y="265.40" width="1.00" height="13.60" fill="rgb(246,246,246)"/><rect x="483.00" y="265.40" width="1.00" height="13.60" fill="rgb(84,84,84)"/><rect x="484.00" y="265.40" width="1.00" height="13.60" fill="rgb(93,93,93)"/><rect x="485.00" y="265.40" width="1.00" height="13.60" fill="rgb(45,45,45)"/><rect x="486.00" y="265.40" width="1.00" height="13.60" fill="rgb(115,115,115)"/><rect x="487.00" y="265.40" width="1.00" height="13.60" fill="rgb(59,59,59)"/><rect x="488.00" y="265.40" width="1.00" height="13.60" fill="rgb(118,118,118)"/><rect x="489.00" y="265.40" width="1.00" height="13.60" fill="rgb(101,101,101)"/><rect x="490.00" y="265.40" width="1.00" height="13.60" fill="rgb(160,160,160)"/><rect x="491.00" y="265.40" width="1.00" height="13.60" fill="rgb(239,239,239)"/><rect x="492.00" y="265.40" width="1.00" height="13.60" fill="rgb(165,165,165)"/><rect x="493.00" y="265.40" width="1.00" height="13.60" fill="rgb(67,67,67)"/><rect x="494.00" y="265.40" width="1.00" height="13.60" fill="rgb(50,50,50)"/><rect x="495.00" y="265.40" width="1.00" height="13.60" fill="rgb(227,227,227)"/><rect x="496.00" y="265.40" width="1.00" height="13.60" fill="rgb(103,103,103)"/><rect x="497.00" y="265.40" width="1.00" height="13.60" fill="rgb(75,75,75)"/><rect x="498.00" y="265.40" width="1.00" height="13.60" fill="rgb(31,31,31)"/><rect x="499.00" y="265.40" width="1.00" height="13.60" fill="rgb(236,236,236)"/><rect x="500.00" y="265.40" width="1.00" height="13.60" fill="rgb(60,60,60)"/><rect x="501.00" y="265.40" width="1.00" height="13.60" fill="rgb(231,231,231)"/><rect x="502.00" y="265.40" width="1.00" height="13.60" fill="rgb(101,101,101)"/><rect x="503.00" y="265.40" width="1.00" height="13.60" fill="rgb(225,225,225)"/><rect x="504.00" y="265.40" width="1.00" height="13.60" fill="rgb(60,60,60)"/><rect x="505.00" y="265.40" width="1.00" height="13.60" fill="rgb(36,36,36)"/><rect x="506.00" y="265.40" width="1.00" height="13.60" fill="rgb(245,245,245)"/><rect x="507.00" y="265.40" width="1.00" height="13.60" fill="rgb(245,245,245)"/><rect x="508.00" y="265.40" width="1.00" height="13.60" fill="rgb(246,246,246)"/><rect x="509.00" y="265.40" width="0.10" height="13.60" fill="rgb(98,98,98)"/>
<rect x="418.90" y="279.00" width="90.20" height="4.10" fill="url(#st16)"/>
<polyline points="418.80,228.80 418.84,228.74 418.89,228.67 418.95,228.58 419.01,228.48 419.09,228.36 419.18,228.25 419.28,228.12 419.40,228.00 419.53,227.87 419.68,227.74 419.84,227.60 420.02,227.45 420.20,227.30 420.40,227.14 420.60,226.97 420.80,226.80 421.01,226.61 421.22,226.41 421.44,226.19 421.66,225.97 421.90,225.75 422.15,225.55 422.42,225.36 422.70,225.20 423.01,225.06 423.33,224.94 423.68,224.83 424.04,224.74 424.40,224.66 424.77,224.59 425.14,224.54 425.50,224.50 425.85,224.48 426.20,224.47 426.55,224.47 426.89,224.49 427.25,224.52 427.62,224.57 428.00,224.63 428.40,224.70 428.82,224.79 429.25,224.89 429.68,225.01 430.14,225.14 430.60,225.29 431.09,225.45 431.58,225.62 432.10,225.80 432.64,226.00 433.20,226.20 433.79,226.43 434.39,226.66 434.99,226.91 435.60,227.16 436.21,227.43 436.80,227.70 437.39,227.98 437.98,228.27 438.56,228.57 439.15,228.88 439.74,229.20 440.32,229.53 440.91,229.86 441.50,230.20 442.09,230.55 442.68,230.91 443.26,231.29 443.85,231.67 444.44,232.05 445.02,232.44 445.61,232.82 446.20,233.20 446.79,233.57 447.38,233.95 447.96,234.32 448.55,234.69 449.14,235.07 449.72,235.44 450.31,235.82 450.90,236.20 451.50,236.59 452.11,236.98 452.72,237.37 453.33,237.77 453.93,238.16 454.52,238.55 455.07,238.93 455.60,239.30 456.08,239.65 456.50,239.98 456.90,240.31 457.28,240.63 457.66,240.95 458.07,241.28 458.51,241.63 459.00,242.00 459.55,242.40 460.14,242.81 460.76,243.23 461.40,243.67 462.05,244.12 462.71,244.57 463.36,245.03 464.00,245.50 464.62,245.98 465.25,246.47 465.87,246.98 466.49,247.49 467.12,248.01 467.74,248.52 468.37,249.02 469.00,249.50 469.63,249.97 470.27,250.44 470.91,250.91 471.55,251.36 472.19,251.81 472.83,252.25 473.47,252.68 474.10,253.10 474.73,253.51 475.36,253.90 475.98,254.29 476.61,254.67 477.23,255.04 477.85,255.40 478.48,255.75 479.10,256.10 479.72,256.44 480.34,256.77 480.95,257.10 481.57,257.41 482.19,257.72 482.81,258.02 483.45,258.31 484.10,258.60 484.78,258.88 485.48,259.14 486.21,259.40 486.94,259.65 487.65,259.89 488.35,260.13 489.00,260.37 489.60,260.60 490.14,260.84 490.63,261.11 491.09,261.37 491.52,261.63 491.93,261.87 492.34,262.06 492.76,262.21 493.20,262.30 493.65,262.32 494.10,262.27 494.55,262.18 495.00,262.05 495.45,261.90 495.90,261.73 496.35,261.56 496.80,261.40 497.25,261.26 497.72,261.12 498.18,260.97 498.64,260.82 499.10,260.64 499.55,260.44 499.98,260.19 500.40,259.90 500.80,259.57 501.19,259.20 501.57,258.80 501.94,258.37 502.29,257.90 502.64,257.40 502.98,256.87 503.30,256.30 503.61,255.68 503.91,255.00 504.19,254.28 504.46,253.53 504.73,252.76 504.99,251.99 505.24,251.24 505.50,250.50 505.76,249.77 506.02,249.04 506.27,248.30 506.52,247.56 506.77,246.84 507.00,246.13 507.21,245.45 507.40,244.80 507.57,244.18 507.72,243.57 507.85,242.99 507.98,242.43 508.09,241.88 508.19,241.36 508.30,240.87 508.40,240.40 508.51,239.95 508.61,239.50 508.72,239.08 508.81,238.67 508.90,238.31 508.98,237.99 509.05,237.71 509.10,237.50" fill="none" stroke="#8cbc4c" stroke-width="1.0" stroke-linejoin="round"/>
<rect x="418.50" y="222.50" width="94.60" height="61.00" fill="none" stroke="#333333" stroke-width="1"/>
<line x1="415.60" y1="224.50" x2="418.50" y2="224.50" stroke="#333333" stroke-width="1"/>
<text x="412.10" y="227.24" font-size="6.6" text-anchor="end" textLength="8.70" lengthAdjust="spacingAndGlyphs">0.2</text>
<line x1="415.60" y1="237.50" x2="418.50" y2="237.50" stroke="#333333" stroke-width="1"/>
<text x="412.10" y="240.40" font-size="6.6" text-anchor="end" textLength="8.70" lengthAdjust="spacingAndGlyphs">0.0</text>
<line x1="415.60" y1="250.50" x2="418.50" y2="250.50" stroke="#333333" stroke-width="1"/>
<text x="412.10" y="253.56" font-size="6.6" text-anchor="end" textLength="11.20" lengthAdjust="spacingAndGlyphs">−0.2</text>
<line x1="415.60" y1="264.50" x2="418.50" y2="264.50" stroke="#333333" stroke-width="1"/>
<text x="412.10" y="266.72" font-size="6.6" text-anchor="end" textLength="11.20" lengthAdjust="spacingAndGlyphs">−0.4</text>
<text x="424.80" y="253.60" font-size="7.0" textLength="35.80" lengthAdjust="spacingAndGlyphs">NES = −1.41</text>
<text x="424.80" y="261.00" font-size="7.0" textLength="41.60" lengthAdjust="spacingAndGlyphs">FDR q = 0.043</text>
<text x="470.60" y="236.20" font-size="7.0" textLength="19.60" lengthAdjust="spacingAndGlyphs">TALL-1</text>
<text x="277.40" y="90.90" font-size="7.4" textLength="52.40" lengthAdjust="spacingAndGlyphs" transform="rotate(-90 277.40 90.90)">Enrichment score</text>
<text x="277.40" y="244.60" font-size="7.4" textLength="51.60" lengthAdjust="spacingAndGlyphs" transform="rotate(-90 277.40 244.60)">Enrichment score</text>
<text x="305.00" y="103.60" font-size="7.0" textLength="7.90" lengthAdjust="spacingAndGlyphs">Up</text>
<text x="372.70" y="103.60" font-size="7.0" textLength="16.80" lengthAdjust="spacingAndGlyphs">Down</text>
<line x1="319.30" y1="101.50" x2="366.60" y2="101.50" stroke="#2a2a2a" stroke-width="1.15"/>
<path d="M316.30,101.50 L321.60,99.60 L320.30,101.50 L321.60,103.40 Z" fill="#111"/>
<path d="M369.60,101.50 L364.30,99.60 L365.60,101.50 L364.30,103.40 Z" fill="#111"/>
<text x="423.20" y="103.40" font-size="7.0" textLength="7.90" lengthAdjust="spacingAndGlyphs">Up</text>
<text x="491.60" y="103.40" font-size="7.0" textLength="16.80" lengthAdjust="spacingAndGlyphs">Down</text>
<line x1="437.80" y1="101.30" x2="485.50" y2="101.30" stroke="#2a2a2a" stroke-width="1.15"/>
<path d="M434.80,101.30 L440.10,99.40 L438.80,101.30 L440.10,103.20 Z" fill="#111"/>
<path d="M488.50,101.30 L483.20,99.40 L484.50,101.30 L483.20,103.20 Z" fill="#111"/>
<text x="303.20" y="291.90" font-size="7.0" textLength="7.90" lengthAdjust="spacingAndGlyphs">Up</text>
<text x="488.40" y="291.90" font-size="7.0" textLength="16.80" lengthAdjust="spacingAndGlyphs">Down</text>
<line x1="318.00" y1="289.70" x2="482.30" y2="289.70" stroke="#2a2a2a" stroke-width="1.15"/>
<path d="M315.00,289.70 L320.30,287.80 L319.00,289.70 L320.30,291.60 Z" fill="#111"/>
<path d="M485.30,289.70 L480.00,287.80 L481.30,289.70 L480.00,291.60 Z" fill="#111"/>
<text x="310.00" y="116.30" font-size="8.5" class="b" textLength="73.80" lengthAdjust="spacingAndGlyphs">gSMARCA4/2 <tspan font-style="italic">vs.</tspan> gAAVS1</text>
<text x="432.00" y="116.10" font-size="8.5" class="b" textLength="67.30" lengthAdjust="spacingAndGlyphs">gARID1A/B <tspan font-style="italic">vs.</tspan> gAAVS1</text>
<text x="377.90" y="303.80" font-size="8.5" class="b" textLength="56.40" lengthAdjust="spacingAndGlyphs">BRM014 <tspan font-style="italic">vs.</tspan> DMSO</text></svg></body></html>
